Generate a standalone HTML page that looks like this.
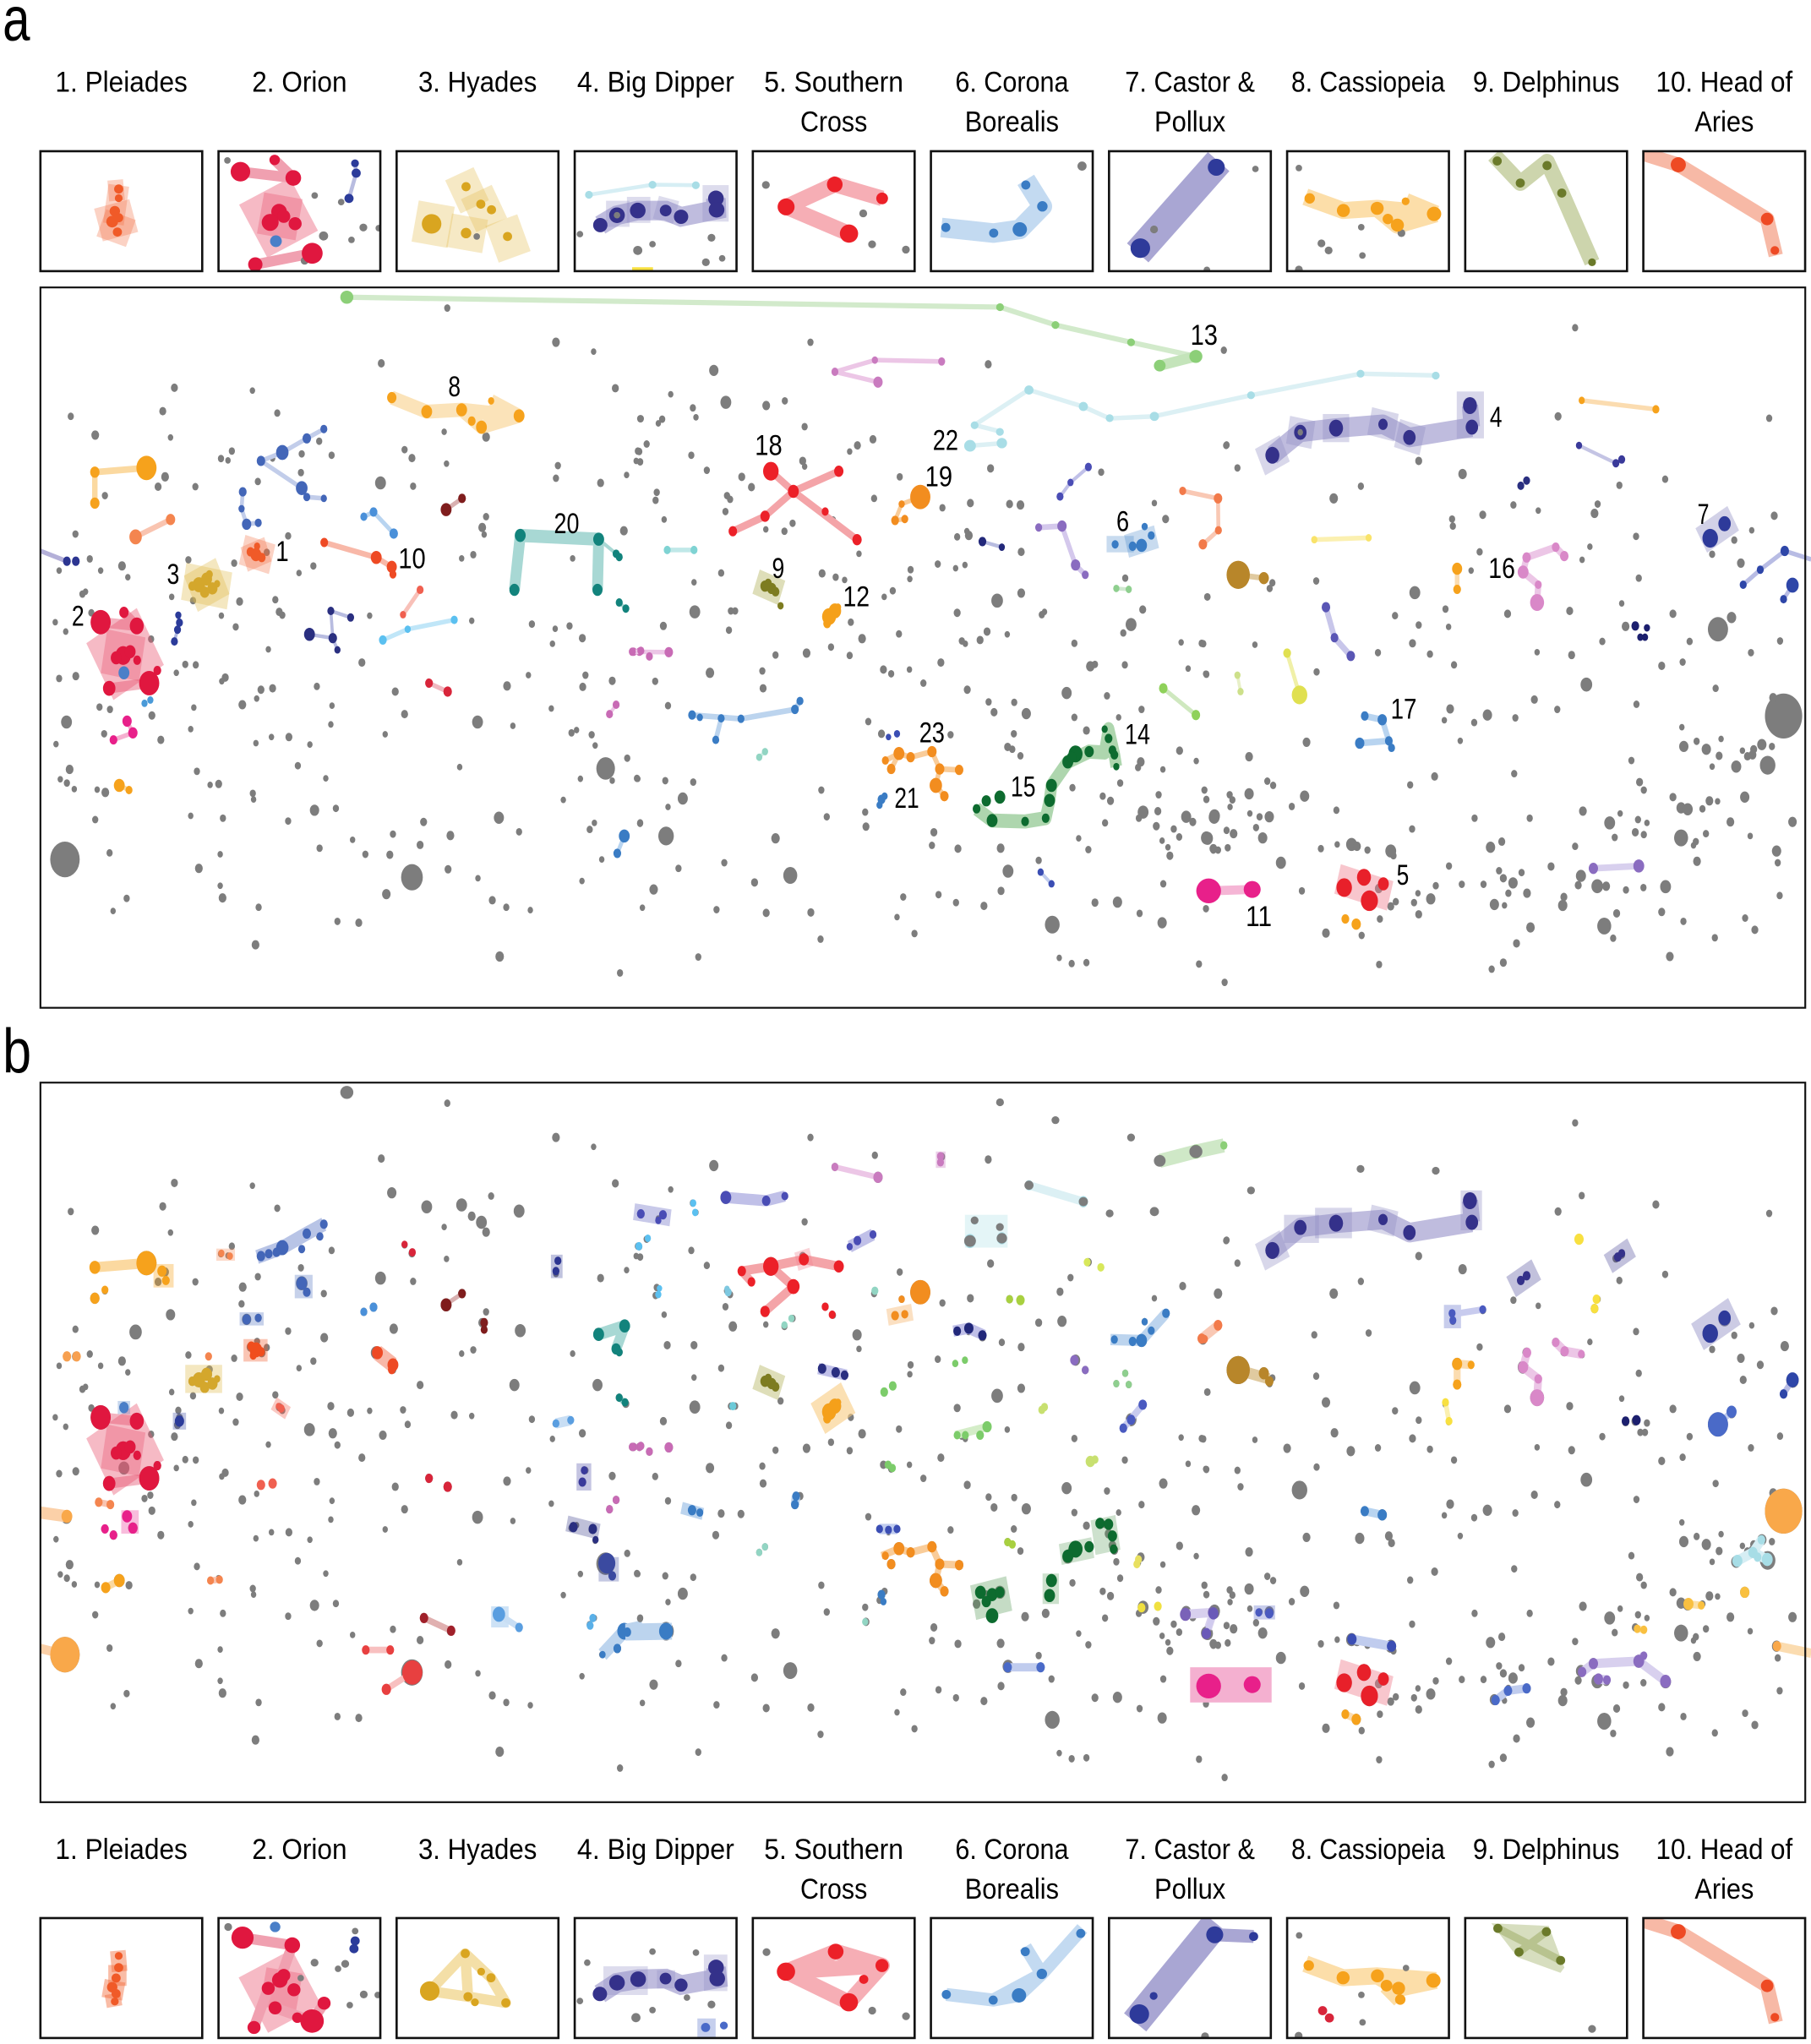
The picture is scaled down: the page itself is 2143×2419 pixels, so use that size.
<!DOCTYPE html>
<html><head><meta charset="utf-8"><style>html,body{margin:0;padding:0;background:#fff}svg{display:block}
.t{font-family:"Liberation Sans Narrow","Liberation Sans",Arial,sans-serif;font-size:22.5px;fill:#000}
.n{font-family:"Liberation Sans",Arial,sans-serif;font-size:22.5px;fill:#000}
</style></head><body>
<svg xmlns="http://www.w3.org/2000/svg" xmlns:xlink="http://www.w3.org/1999/xlink" width="2143" height="2419" viewBox="0 0 1389 1568" preserveAspectRatio="none">
<defs>
<filter id="gr" x="-10%" y="-10%" width="120%" height="120%" color-interpolation-filters="sRGB"><feFlood flood-color="#7d7d7d"/><feComposite in2="SourceAlpha" operator="in"/></filter>
</defs>
<rect width="1389" height="1568" fill="#fff"/>
<text x="2" y="31" style="font-family:'Liberation Sans',Arial,sans-serif;font-size:48px;fill:#000" textLength="21" lengthAdjust="spacingAndGlyphs">a</text>
<text x="2" y="823" style="font-family:'Liberation Sans',Arial,sans-serif;font-size:48px;fill:#000" textLength="22" lengthAdjust="spacingAndGlyphs">b</text>

<!-- TITLES -->
<g class="t" text-anchor="middle">
<text x="93.1" y="70.4" textLength="101.4" lengthAdjust="spacingAndGlyphs">1. Pleiades</text>
<text x="229.7" y="70.4" textLength="72.8" lengthAdjust="spacingAndGlyphs">2. Orion</text>
<text x="366.3" y="70.4" textLength="91" lengthAdjust="spacingAndGlyphs">3. Hyades</text>
<text x="502.9" y="70.4" textLength="120.5" lengthAdjust="spacingAndGlyphs">4. Big Dipper</text>
<text x="639.5" y="70.4" textLength="106.8" lengthAdjust="spacingAndGlyphs">5. Southern</text>
<text x="639.5" y="100.8" textLength="51.4" lengthAdjust="spacingAndGlyphs">Cross</text>
<text x="776.1" y="70.4" textLength="86.9" lengthAdjust="spacingAndGlyphs">6. Corona</text>
<text x="776.1" y="100.8" textLength="72.1" lengthAdjust="spacingAndGlyphs">Borealis</text>
<text x="912.7" y="70.4" textLength="99.6" lengthAdjust="spacingAndGlyphs">7. Castor &amp;</text>
<text x="912.7" y="100.8" textLength="54.6" lengthAdjust="spacingAndGlyphs">Pollux</text>
<text x="1049.3" y="70.4" textLength="117.8" lengthAdjust="spacingAndGlyphs">8. Cassiopeia</text>
<text x="1185.9" y="70.4" textLength="112.5" lengthAdjust="spacingAndGlyphs">9. Delphinus</text>
<text x="1322.5" y="70.4" textLength="104.8" lengthAdjust="spacingAndGlyphs">10. Head of</text>
<text x="1322.5" y="100.8" textLength="45.4" lengthAdjust="spacingAndGlyphs">Aries</text>

<text x="93.1" y="1426" textLength="101.4" lengthAdjust="spacingAndGlyphs">1. Pleiades</text>
<text x="229.7" y="1426" textLength="72.8" lengthAdjust="spacingAndGlyphs">2. Orion</text>
<text x="366.3" y="1426" textLength="91" lengthAdjust="spacingAndGlyphs">3. Hyades</text>
<text x="502.9" y="1426" textLength="120.5" lengthAdjust="spacingAndGlyphs">4. Big Dipper</text>
<text x="639.5" y="1426" textLength="106.8" lengthAdjust="spacingAndGlyphs">5. Southern</text>
<text x="639.5" y="1456.4" textLength="51.4" lengthAdjust="spacingAndGlyphs">Cross</text>
<text x="776.1" y="1426" textLength="86.9" lengthAdjust="spacingAndGlyphs">6. Corona</text>
<text x="776.1" y="1456.4" textLength="72.1" lengthAdjust="spacingAndGlyphs">Borealis</text>
<text x="912.7" y="1426" textLength="99.6" lengthAdjust="spacingAndGlyphs">7. Castor &amp;</text>
<text x="912.7" y="1456.4" textLength="54.6" lengthAdjust="spacingAndGlyphs">Pollux</text>
<text x="1049.3" y="1426" textLength="117.8" lengthAdjust="spacingAndGlyphs">8. Cassiopeia</text>
<text x="1185.9" y="1426" textLength="112.5" lengthAdjust="spacingAndGlyphs">9. Delphinus</text>
<text x="1322.5" y="1426" textLength="104.8" lengthAdjust="spacingAndGlyphs">10. Head of</text>
<text x="1322.5" y="1456.4" textLength="45.4" lengthAdjust="spacingAndGlyphs">Aries</text>
</g>

<!-- ===================== PANEL A ===================== -->
<!-- zone 1 -->
<g transform="translate(26,214) scale(0.2977,0.3597)">
<g id="s1" fill="#7d7d7d">
<circle cx="1065" cy="62" r="8"/><circle cx="1345" cy="135" r="10"/><circle cx="1442" cy="155" r="7"/><circle cx="895" cy="180" r="9"/><circle cx="1498" cy="233" r="9"/><circle cx="362" cy="232" r="9"/><circle cx="563" cy="238" r="7"/><circle cx="95" cy="293" r="8"/><circle cx="332" cy="282" r="9"/><circle cx="627" cy="286" r="8"/><circle cx="1562" cy="298" r="8"/><circle cx="158" cy="333" r="10"/><circle cx="352" cy="338" r="7"/><circle cx="1057" cy="326" r="7"/><circle cx="1165" cy="337" r="10"/><circle cx="510" cy="367" r="8"/><circle cx="482" cy="383" r="8"/><circle cx="500" cy="387" r="7"/><circle cx="735" cy="346" r="8"/><circle cx="690" cy="373" r="8"/><circle cx="767" cy="376" r="8"/><circle cx="955" cy="364" r="8"/><circle cx="974" cy="382" r="9"/><circle cx="1063" cy="394" r="7"/><circle cx="1350" cy="398" r="8"/><circle cx="1345" cy="425" r="8"/><circle cx="1556" cy="367" r="8"/><circle cx="1562" cy="390" r="8"/><circle cx="1527" cy="418" r="7"/><circle cx="1460" cy="435" r="9"/><circle cx="338" cy="422" r="10"/><circle cx="320" cy="443" r="9"/><circle cx="183" cy="462" r="8"/><circle cx="416" cy="443" r="8"/><circle cx="577" cy="432" r="8"/><circle cx="688" cy="413" r="8"/><circle cx="893" cy="435" r="14"/><circle cx="977" cy="442" r="8"/><circle cx="1165" cy="507" r="8"/><circle cx="1155" cy="530" r="10"/><circle cx="1160" cy="545" r="7"/><circle cx="1520" cy="537" r="10"/><circle cx="107" cy="544" r="8"/><circle cx="655" cy="548" r="8"/><circle cx="144" cy="597" r="8"/><circle cx="172" cy="622" r="7"/><circle cx="227" cy="612" r="10"/><circle cx="242" cy="636" r="7"/><circle cx="65" cy="622" r="7"/><circle cx="398" cy="599" r="8"/><circle cx="516" cy="606" r="8"/><circle cx="600" cy="583" r="8"/><circle cx="615" cy="383" r="7"/><circle cx="1132" cy="588" r="8"/><circle cx="1102" cy="596" r="7"/><circle cx="1388" cy="596" r="7"/><circle cx="683" cy="627" r="7"/><circle cx="720" cy="612" r="8"/><circle cx="355" cy="678" r="7"/><circle cx="410" cy="686" r="8"/><circle cx="530" cy="688" r="9"/><circle cx="622" cy="684" r="8"/><circle cx="632" cy="710" r="9"/><circle cx="640" cy="717" r="8"/><circle cx="483" cy="718" r="7"/><circle cx="520" cy="742" r="8"/><circle cx="865" cy="718" r="7"/><circle cx="1128" cy="729" r="7"/><circle cx="1283" cy="736" r="8"/><circle cx="1343" cy="746" r="7"/><circle cx="1380" cy="740" r="8"/><circle cx="1413" cy="766" r="9"/><circle cx="1336" cy="778" r="7"/><circle cx="55" cy="732" r="7"/><circle cx="82" cy="752" r="7"/><circle cx="125" cy="672" r="8"/><circle cx="133" cy="667" r="7"/><circle cx="604" cy="790" r="7"/><circle cx="845" cy="818" r="9"/><circle cx="65" cy="852" r="8"/><circle cx="108" cy="847" r="9"/><circle cx="390" cy="822" r="8"/><circle cx="417" cy="823" r="8"/><circle cx="367" cy="840" r="7"/><circle cx="493" cy="850" r="9"/><circle cx="484" cy="858" r="7"/><circle cx="585" cy="876" r="9"/><circle cx="615" cy="873" r="9"/><circle cx="574" cy="895" r="7"/><circle cx="537" cy="908" r="10"/><circle cx="729" cy="869" r="8"/><circle cx="768" cy="910" r="7"/><circle cx="931" cy="880" r="9"/><circle cx="1219" cy="868" r="10"/><circle cx="1274" cy="845" r="7"/><circle cx="1421" cy="845" r="8"/><circle cx="1414" cy="870" r="9"/><circle cx="1490" cy="857" r="9"/><circle cx="169" cy="913" r="8"/><circle cx="196" cy="918" r="8"/><circle cx="304" cy="931" r="9"/><circle cx="412" cy="914" r="7"/><circle cx="84" cy="945" r="14"/><circle cx="181" cy="970" r="8"/><circle cx="327" cy="983" r="9"/><circle cx="404" cy="960" r="7"/><circle cx="57" cy="992" r="7"/><circle cx="572" cy="990" r="7"/><circle cx="612" cy="977" r="7"/><circle cx="657" cy="977" r="9"/><circle cx="711" cy="993" r="7"/><circle cx="955" cy="928" r="9"/><circle cx="765" cy="950" r="7"/><circle cx="905" cy="971" r="7"/><circle cx="1143" cy="945" r="14"/><circle cx="1234" cy="953" r="7"/><circle cx="1333" cy="916" r="7"/><circle cx="1385" cy="968" r="8"/><circle cx="1398" cy="962" r="7"/><circle cx="1437" cy="972" r="8"/><circle cx="1446" cy="995" r="7"/><circle cx="1473" cy="1044" r="24"/><circle cx="1528" cy="1022" r="7"/><circle cx="1556" cy="1066" r="7"/><circle cx="1408" cy="1066" r="7"/><circle cx="1490" cy="1070" r="7"/><circle cx="92" cy="1046" r="10"/><circle cx="68" cy="1067" r="7"/><circle cx="85" cy="1075" r="8"/><circle cx="104" cy="1088" r="7"/><circle cx="163" cy="1089" r="7"/><circle cx="184" cy="1095" r="10"/><circle cx="420" cy="1050" r="8"/><circle cx="454" cy="1079" r="7"/><circle cx="476" cy="1077" r="9"/><circle cx="564" cy="1097" r="8"/><circle cx="566" cy="1110" r="7"/><circle cx="680" cy="1038" r="8"/><circle cx="752" cy="1065" r="7"/><circle cx="1097" cy="1041" r="7"/><circle cx="1364" cy="1111" r="7"/><circle cx="1444" cy="1160" r="7"/><circle cx="1432" cy="1174" r="8"/><circle cx="1562" cy="1160" r="8"/><circle cx="158" cy="1153" r="8"/><circle cx="404" cy="1145" r="7"/><circle cx="487" cy="1150" r="8"/><circle cx="655" cy="1156" r="8"/><circle cx="723" cy="1133" r="12"/><circle cx="778" cy="1129" r="8"/><circle cx="1004" cy="1158" r="9"/><circle cx="1073" cy="1187" r="10"/><circle cx="1198" cy="1149" r="13"/><circle cx="1250" cy="1179" r="8"/><circle cx="80" cy="1238" r="38"/><circle cx="195" cy="1224" r="8"/><circle cx="480" cy="1227" r="7"/><circle cx="425" cy="1257" r="10"/><circle cx="736" cy="1214" r="8"/><circle cx="821" cy="1196" r="7"/><circle cx="854" cy="1227" r="8"/><circle cx="917" cy="1228" r="9"/><circle cx="925" cy="1184" r="8"/><circle cx="995" cy="1207" r="9"/><circle cx="974" cy="1276" r="28"/><circle cx="1067" cy="1259" r="9"/><circle cx="1144" cy="1278" r="7"/><circle cx="1463" cy="1238" r="7"/><circle cx="239" cy="1321" r="8"/><circle cx="204" cy="1348" r="7"/><circle cx="480" cy="1294" r="7"/><circle cx="486" cy="1320" r="10"/><circle cx="579" cy="1340" r="8"/><circle cx="908" cy="1312" r="11"/><circle cx="1181" cy="1325" r="9"/><circle cx="1217" cy="1340" r="8"/><circle cx="1279" cy="1346" r="7"/><circle cx="1412" cy="1284" r="7"/><circle cx="782" cy="1370" r="8"/><circle cx="837" cy="1373" r="9"/><circle cx="571" cy="1420" r="10"/><circle cx="1200" cy="1445" r="11"/><circle cx="1510" cy="1480" r="8"/><circle cx="148" cy="712" r="8"/><circle cx="302" cy="768" r="8"/>
</g>
<g id="l1a" fill="none" stroke-linejoin="round">
<path d="M157,412 L290,403 M157,412 L157,478" stroke="#fbd9a0" stroke-width="14"/>
<path d="M262,550 L352,513" stroke="#f9c4b0" stroke-width="12"/>
<path d="M17,580 L85,602" stroke="#b4b0d8" stroke-width="10"/>
<path d="M747,320 L703,340 L640,370 L585,388 L690,446 L703,465 L747,468 M538,454 L535,490 L548,523 L578,520" stroke="#c2cdea" stroke-width="10"/>
<g fill="#f26a3a" fill-opacity=".3" stroke="none"><rect x="535" y="555" width="80" height="65" transform="rotate(15 575 588)"/><rect x="540" y="560" width="65" height="55" transform="rotate(-20 572 588)"/></g>
<g fill="#e0b94a" fill-opacity=".35" stroke="none"><rect x="385" y="615" width="120" height="80" transform="rotate(10 445 655)"/><rect x="400" y="610" width="90" height="85" transform="rotate(-25 445 652)"/></g>
<path d="M172,732 L265,740 M194,873 L297,862 M232,711 L265,740" stroke="#f0a0b0" stroke-width="22" stroke-opacity=".8"/>
<rect x="160" y="730" width="150" height="140" transform="rotate(-30 235 800)" fill="#e8536f" fill-opacity=".4" stroke="none"/>
<rect x="180" y="755" width="100" height="95" transform="rotate(10 230 802)" fill="#e8536f" fill-opacity=".35" stroke="none"/>
<path d="M240,943 L255,968 L205,983" stroke="#f5b0d0" stroke-width="10"/>
<path d="M220,1080 L245,1090" stroke="#fbd9a0" stroke-width="10"/>
<path d="M372,717 L375,733 L370,748 L362,773" stroke="#b0b8e0" stroke-width="8"/>
<path d="M710,758 L770,766 L765,708 L816,722 M770,766 L782,791" stroke="#b8bce0" stroke-width="8"/>
<path d="M850,507 L875,497 L927,543" stroke="#b8d4f0" stroke-width="10"/>
<path d="M748,562 L882,594 L922,614 L925,630" stroke="#f8b8a8" stroke-width="12"/>
<path d="M995,663 L951,716" stroke="#f8c0b8" stroke-width="10"/>
<path d="M899,770 L963,747 L1083,727" stroke="#c0e6f8" stroke-width="10"/>
<path d="M1062,492 L1103,468" stroke="#d8b0b0" stroke-width="10"/>
<path d="M1018,862 L1066,880" stroke="#f0b8c0" stroke-width="10"/>
<path d="M1238,663 L1253,547 L1455,555 L1452,663" stroke="#a8d8d4" stroke-width="28"/>
<path d="M1455,555 L1500,586 L1508,593 M1508,690 L1525,703" stroke="#a8d8d4" stroke-width="8"/>
<path d="M922,253 L1012,283 L1102,279 L1153,316 L1250,292 M1102,279 L1250,292 M1178,260 L1250,292" stroke="#f9d08a" stroke-opacity=".6" stroke-width="30"/>
<path d="M1545,795 L1568,795 M1483,928 L1500,908" stroke="#ecc6e6" stroke-width="8"/>
<path d="M1521,1188 L1503,1225" stroke="#b8d4f0" stroke-width="10"/>
</g>
<g id="c1a">
<g fill="#f6a21c"><circle cx="157" cy="412" r="12"/><circle cx="290" cy="403" r="26"/><circle cx="157" cy="478" r="12"/><circle cx="220" cy="1080" r="14"/><circle cx="245" cy="1090" r="9"/><circle cx="922" cy="253" r="12"/><circle cx="1012" cy="283" r="14"/><circle cx="1102" cy="279" r="14"/><circle cx="1128" cy="303" r="10"/><circle cx="1153" cy="316" r="14"/><circle cx="1178" cy="260" r="8"/><circle cx="1250" cy="292" r="14"/></g>
<g fill="#f4854f"><circle cx="262" cy="550" r="16"/><circle cx="352" cy="513" r="12"/></g>
<g fill="#2c3591"><circle cx="85" cy="602" r="10"/><circle cx="108" cy="602" r="10"/></g>
<g fill="#4366b8"><circle cx="585" cy="388" r="11"/><circle cx="640" cy="370" r="16"/><circle cx="703" cy="340" r="11"/><circle cx="747" cy="320" r="9"/><circle cx="690" cy="446" r="15"/><circle cx="703" cy="465" r="9"/><circle cx="747" cy="468" r="8"/><circle cx="538" cy="454" r="10"/><circle cx="535" cy="490" r="8"/><circle cx="548" cy="523" r="12"/><circle cx="578" cy="520" r="9"/></g>
<g fill="#f05a28"><circle cx="572" cy="588" r="14"/><circle cx="558" cy="582" r="10"/><circle cx="587" cy="594" r="10"/><circle cx="575" cy="570" r="8"/></g>
<g fill="#d4a72c"><circle cx="425" cy="652" r="16"/><circle cx="445" cy="640" r="14"/><circle cx="460" cy="660" r="13"/><circle cx="440" cy="668" r="12"/><circle cx="408" cy="655" r="10"/><circle cx="472" cy="650" r="8"/><circle cx="452" cy="630" r="9"/></g>
<g fill="#e0173f"><circle cx="172" cy="732" r="26"/><circle cx="232" cy="711" r="12"/><circle cx="265" cy="740" r="18"/><circle cx="230" cy="803" r="20"/><circle cx="212" cy="808" r="14"/><circle cx="248" cy="795" r="14"/><circle cx="266" cy="813" r="10"/><circle cx="194" cy="873" r="16"/><circle cx="297" cy="862" r="26"/><circle cx="318" cy="835" r="10"/></g>
<circle cx="232" cy="840" r="14" fill="#4a7fc8"/>
<g fill="#4a9ad8"><circle cx="285" cy="905" r="8"/><circle cx="300" cy="898" r="8"/></g>
<g fill="#e8208a"><circle cx="240" cy="943" r="12"/><circle cx="255" cy="968" r="12"/><circle cx="205" cy="983" r="10"/></g>
<g fill="#2b3b9a"><circle cx="372" cy="717" r="8"/><circle cx="375" cy="733" r="9"/><circle cx="370" cy="748" r="9"/><circle cx="362" cy="773" r="9"/></g>
<g fill="#2a2f80"><circle cx="710" cy="758" r="14"/><circle cx="770" cy="766" r="11"/><circle cx="765" cy="708" r="9"/><circle cx="816" cy="722" r="9"/><circle cx="782" cy="791" r="8"/></g>
<g fill="#4a90d9"><circle cx="850" cy="507" r="9"/><circle cx="875" cy="497" r="10"/><circle cx="927" cy="543" r="11"/></g>
<g fill="#ee4a24"><circle cx="748" cy="562" r="10"/><circle cx="882" cy="594" r="14"/><circle cx="922" cy="614" r="13"/><circle cx="925" cy="630" r="9"/></g>
<g fill="#f06050"><circle cx="995" cy="663" r="9"/><circle cx="951" cy="716" r="8"/></g>
<g fill="#5bc0f0"><circle cx="899" cy="770" r="10"/><circle cx="963" cy="747" r="8"/><circle cx="1083" cy="727" r="9"/></g>
<g fill="#7f1d1d"><circle cx="1062" cy="492" r="14"/><circle cx="1103" cy="468" r="10"/></g>
<g fill="#d8253a"><circle cx="1018" cy="862" r="10"/><circle cx="1066" cy="880" r="11"/></g>
<g fill="#12837c"><circle cx="1253" cy="547" r="14"/><circle cx="1455" cy="555" r="14"/><circle cx="1238" cy="663" r="13"/><circle cx="1452" cy="663" r="13"/><circle cx="1500" cy="586" r="9"/><circle cx="1508" cy="593" r="9"/><circle cx="1508" cy="690" r="9"/><circle cx="1525" cy="703" r="9"/></g>
<g fill="#c86bb5"><circle cx="1545" cy="795" r="9"/><circle cx="1560" cy="795" r="9"/><circle cx="1483" cy="928" r="9"/><circle cx="1500" cy="908" r="9"/></g>
<g fill="#3a7cc4"><circle cx="1521" cy="1188" r="14"/><circle cx="1503" cy="1225" r="10"/></g>
</g>
</g>

<!-- zone 2 -->
<g transform="translate(479.6,214) scale(0.2977,0.3597)">
<g id="s2" fill="#7d7d7d">
<circle cx="477" cy="135" r="8"/><circle cx="228" cy="195" r="12"/><circle cx="935" cy="182" r="9"/><circle cx="117" cy="246" r="7"/><circle cx="259" cy="263" r="14"/><circle cx="174" cy="275" r="8"/><circle cx="182" cy="295" r="7"/><circle cx="363" cy="270" r="10"/><circle cx="411" cy="260" r="8"/><circle cx="40" cy="298" r="8"/><circle cx="95" cy="299" r="8"/><circle cx="85" cy="308" r="7"/><circle cx="462" cy="315" r="8"/><circle cx="638" cy="342" r="9"/><circle cx="598" cy="355" r="9"/><circle cx="578" cy="368" r="7"/><circle cx="55" cy="352" r="8"/><circle cx="36" cy="368" r="8"/><circle cx="28" cy="388" r="7"/><circle cx="170" cy="376" r="8"/><circle cx="210" cy="408" r="8"/><circle cx="300" cy="422" r="9"/><circle cx="325" cy="444" r="9"/><circle cx="457" cy="388" r="9"/><circle cx="462" cy="400" r="7"/><circle cx="81" cy="455" r="8"/><circle cx="78" cy="472" r="8"/><circle cx="262" cy="462" r="8"/><circle cx="270" cy="470" r="8"/><circle cx="258" cy="496" r="8"/><circle cx="100" cy="513" r="7"/><circle cx="431" cy="521" r="8"/><circle cx="410" cy="538" r="8"/><circle cx="362" cy="534" r="7"/><circle cx="535" cy="514" r="8"/><circle cx="707" cy="422" r="8"/><circle cx="641" cy="468" r="8"/><circle cx="817" cy="488" r="8"/><circle cx="941" cy="404" r="9"/><circle cx="889" cy="478" r="9"/><circle cx="990" cy="480" r="9"/><circle cx="1018" cy="482" r="10"/><circle cx="855" cy="550" r="8"/><circle cx="885" cy="547" r="10"/><circle cx="880" cy="538" r="7"/><circle cx="1020" cy="582" r="9"/><circle cx="1226" cy="412" r="8"/><circle cx="1392" cy="512" r="9"/><circle cx="1363" cy="478" r="7"/><circle cx="1288" cy="638" r="8"/><circle cx="1548" cy="355" r="8"/><circle cx="735" cy="620" r="8"/><circle cx="733" cy="640" r="7"/><circle cx="805" cy="608" r="8"/><circle cx="851" cy="617" r="7"/><circle cx="875" cy="610" r="7"/><circle cx="1020" cy="670" r="10"/><circle cx="958" cy="686" r="15"/><circle cx="177" cy="647" r="7"/><circle cx="247" cy="627" r="8"/><circle cx="507" cy="628" r="9"/><circle cx="542" cy="636" r="8"/><circle cx="565" cy="642" r="7"/><circle cx="602" cy="586" r="7"/><circle cx="667" cy="678" r="7"/><circle cx="689" cy="665" r="8"/><circle cx="179" cy="710" r="14"/><circle cx="98" cy="740" r="9"/><circle cx="267" cy="749" r="8"/><circle cx="272" cy="708" r="8"/><circle cx="283" cy="708" r="8"/><circle cx="581" cy="732" r="8"/><circle cx="610" cy="767" r="10"/><circle cx="467" cy="798" r="10"/><circle cx="387" cy="802" r="8"/><circle cx="530" cy="785" r="8"/><circle cx="578" cy="803" r="8"/><circle cx="705" cy="757" r="8"/><circle cx="855" cy="712" r="9"/><circle cx="867" cy="772" r="8"/><circle cx="876" cy="778" r="7"/><circle cx="914" cy="770" r="9"/><circle cx="932" cy="752" r="9"/><circle cx="984" cy="758" r="7"/><circle cx="1073" cy="716" r="8"/><circle cx="1080" cy="710" r="7"/><circle cx="1303" cy="737" r="14"/><circle cx="1283" cy="755" r="8"/><circle cx="1157" cy="777" r="8"/><circle cx="1333" cy="705" r="9"/><circle cx="1432" cy="775" r="7"/><circle cx="1485" cy="777" r="8"/><circle cx="1500" cy="678" r="8"/><circle cx="218" cy="840" r="11"/><circle cx="353" cy="836" r="8"/><circle cx="355" cy="873" r="9"/><circle cx="77" cy="858" r="8"/><circle cx="665" cy="833" r="9"/><circle cx="685" cy="842" r="8"/><circle cx="732" cy="833" r="7"/><circle cx="768" cy="862" r="8"/><circle cx="813" cy="818" r="9"/><circle cx="881" cy="876" r="9"/><circle cx="1137" cy="883" r="13"/><circle cx="1198" cy="826" r="11"/><circle cx="1210" cy="822" r="8"/><circle cx="1287" cy="823" r="8"/><circle cx="1241" cy="889" r="8"/><circle cx="1450" cy="831" r="7"/><circle cx="1497" cy="843" r="8"/><circle cx="110" cy="910" r="8"/><circle cx="626" cy="944" r="8"/><circle cx="660" cy="970" r="9"/><circle cx="838" cy="972" r="8"/><circle cx="936" cy="902" r="8"/><circle cx="950" cy="924" r="9"/><circle cx="1002" cy="903" r="8"/><circle cx="1033" cy="927" r="12"/><circle cx="1001" cy="970" r="8"/><circle cx="985" cy="998" r="9"/><circle cx="997" cy="1003" r="8"/><circle cx="1018" cy="1017" r="8"/><circle cx="1157" cy="935" r="8"/><circle cx="1188" cy="963" r="9"/><circle cx="1271" cy="935" r="7"/><circle cx="1330" cy="918" r="8"/><circle cx="1328" cy="1030" r="10"/><circle cx="1321" cy="1042" r="8"/><circle cx="1428" cy="1006" r="9"/><circle cx="1385" cy="1046" r="7"/><circle cx="1471" cy="1028" r="7"/><circle cx="1275" cy="1075" r="8"/><circle cx="1152" cy="1085" r="8"/><circle cx="1230" cy="1103" r="8"/><circle cx="1250" cy="1113" r="9"/><circle cx="1334" cy="1137" r="14"/><circle cx="1323" cy="1150" r="8"/><circle cx="1374" cy="1100" r="8"/><circle cx="1372" cy="1135" r="9"/><circle cx="1445" cy="1147" r="13"/><circle cx="1462" cy="1158" r="9"/><circle cx="1492" cy="1090" r="8"/><circle cx="1498" cy="1110" r="7"/><circle cx="1518" cy="1145" r="14"/><circle cx="1500" cy="1193" r="14"/><circle cx="1368" cy="1167" r="9"/><circle cx="1413" cy="1173" r="8"/><circle cx="1427" cy="1190" r="8"/><circle cx="1383" cy="1198" r="7"/><circle cx="1515" cy="1218" r="8"/><circle cx="1552" cy="1213" r="8"/><circle cx="1403" cy="1230" r="9"/><circle cx="1398" cy="1212" r="7"/><circle cx="1557" cy="1100" r="8"/><circle cx="1168" cy="1193" r="7"/><circle cx="1193" cy="1217" r="8"/><circle cx="1236" cy="1160" r="8"/><circle cx="5" cy="1022" r="8"/><circle cx="103" cy="1070" r="8"/><circle cx="175" cy="1073" r="8"/><circle cx="30" cy="1065" r="8"/><circle cx="148" cy="1108" r="13"/><circle cx="110" cy="1126" r="7"/><circle cx="38" cy="1161" r="8"/><circle cx="105" cy="1188" r="20"/><circle cx="387" cy="1193" r="11"/><circle cx="505" cy="1090" r="8"/><circle cx="519" cy="1147" r="8"/><circle cx="618" cy="1137" r="8"/><circle cx="620" cy="1168" r="9"/><circle cx="795" cy="1180" r="9"/><circle cx="790" cy="1208" r="8"/><circle cx="857" cy="1215" r="9"/><circle cx="967" cy="1214" r="10"/><circle cx="1065" cy="1240" r="8"/><circle cx="986" cy="1263" r="14"/><circle cx="968" cy="1305" r="9"/><circle cx="1210" cy="1330" r="9"/><circle cx="1268" cy="1329" r="12"/><circle cx="1325" cy="1353" r="8"/><circle cx="1383" cy="1373" r="12"/><circle cx="1386" cy="1290" r="8"/><circle cx="1100" cy="1377" r="19"/><circle cx="137" cy="1257" r="8"/><circle cx="255" cy="1245" r="8"/><circle cx="73" cy="1302" r="11"/><circle cx="333" cy="1287" r="9"/><circle cx="425" cy="1272" r="18"/><circle cx="44" cy="1341" r="7"/><circle cx="235" cy="1345" r="8"/><circle cx="363" cy="1352" r="9"/><circle cx="478" cy="1351" r="9"/><circle cx="503" cy="1408" r="8"/><circle cx="716" cy="1318" r="8"/><circle cx="807" cy="1313" r="8"/><circle cx="852" cy="1330" r="8"/><circle cx="924" cy="1337" r="9"/><circle cx="700" cy="1361" r="7"/><circle cx="745" cy="1396" r="8"/><circle cx="188" cy="1446" r="8"/><circle cx="1118" cy="1448" r="7"/><circle cx="1150" cy="1460" r="8"/><circle cx="1188" cy="1458" r="8"/><circle cx="1478" cy="1461" r="8"/><circle cx="1544" cy="1501" r="7"/><circle cx="1496" cy="1343" r="8"/>
</g>
<g id="l2a" fill="none" stroke-linejoin="round">
<path d="M540,198 L643,173 L815,176 M540,198 L651,220" stroke="#ecc6e6" stroke-width="10"/>
<path d="M375,410 L433,453 L597,556 M550,410 L433,453 L360,506 L277,538" stroke="#f4a4a8" stroke-width="16"/>
<path d="M760,465 L712,480 L695,515 L720,512" stroke="#f9cc99" stroke-width="10"/>
<path d="M108,578 L177,578" stroke="#c0e8e8" stroke-width="10"/>
<path d="M18,795 L112,796" stroke="#ecc6e6" stroke-width="10"/>
<path d="M172,930 L298,938 L437,918 L450,900 M247,937 L233,983" stroke="#bcd4ee" stroke-width="12"/>
<path d="M345,1020 L360,1008" stroke="#cdeee4" stroke-width="8"/>
<rect x="335" y="630" width="70" height="55" transform="rotate(20 370 657)" fill="#c8c88a" fill-opacity=".6" stroke="none"/>
<path d="M670,1027 L705,1012 L735,1020 L790,1008 L810,1045 L860,1047 M810,1045 L800,1080 L822,1103 M685,1045 L705,1012" stroke="#f9cc99" stroke-width="12"/>
<path d="M905,1130 L945,1155 L1030,1157 L1083,1150 L1093,1112 L1098,1080 L1140,1030 L1195,1008 L1235,1010 L1245,960 L1260,1015 L1265,1040" stroke="#8cc48c" stroke-opacity=".7" stroke-width="30"/>
<path d="M920,560 L970,572" stroke="#b8bce0" stroke-width="8"/>
<path d="M1065,530 L1125,527 L1160,610 L1185,631" stroke="#d4c8ec" stroke-width="12"/>
<path d="M1120,464 L1147,434 L1193,401" stroke="#c0c0e8" stroke-width="8"/>
<g fill="#3a7cc4" fill-opacity=".28" stroke="none"><rect x="1240" y="548" width="70" height="35"/><rect x="1290" y="535" width="80" height="50" transform="rotate(-15 1330 560)"/></g>
<path d="M1436,452 L1527,468 L1528,536 L1488,566" stroke="#f9c8b4" stroke-width="10"/>
<path d="M1265,660 L1297,662" stroke="#cfe8cf" stroke-width="8"/>
<path d="M1386,873 L1470,930" stroke="#cfe8bf" stroke-width="10"/>
<path d="M1070,1265 L1098,1290" stroke="#c0ccee" stroke-width="8"/>
</g>
<g id="c2a">
<g fill="#c97bbf"><circle cx="540" cy="198" r="9"/><circle cx="643" cy="173" r="8"/><circle cx="815" cy="176" r="9"/><circle cx="651" cy="220" r="12"/></g>
<g fill="#ec2028"><circle cx="375" cy="410" r="20"/><circle cx="433" cy="453" r="14"/><circle cx="550" cy="410" r="12"/><circle cx="360" cy="506" r="12"/><circle cx="277" cy="538" r="11"/><circle cx="515" cy="496" r="9"/><circle cx="597" cy="556" r="12"/></g>
<g fill="#f28d1f"><circle cx="760" cy="465" r="26"/><circle cx="712" cy="480" r="8"/><circle cx="695" cy="515" r="10"/><circle cx="720" cy="512" r="9"/><circle cx="705" cy="1012" r="14"/><circle cx="735" cy="1020" r="11"/><circle cx="790" cy="1008" r="12"/><circle cx="670" cy="1027" r="9"/><circle cx="685" cy="1045" r="11"/><circle cx="810" cy="1045" r="12"/><circle cx="860" cy="1047" r="11"/><circle cx="800" cy="1080" r="16"/><circle cx="822" cy="1103" r="11"/></g>
<g fill="#7fd3d3"><circle cx="108" cy="578" r="9"/><circle cx="177" cy="578" r="9"/></g>
<g fill="#7d7c20"><circle cx="360" cy="655" r="12"/><circle cx="377" cy="660" r="12"/><circle cx="387" cy="667" r="10"/><circle cx="368" cy="648" r="9"/><circle cx="400" cy="697" r="8"/></g>
<g fill="#f5a01a"><circle cx="525" cy="720" r="18"/><circle cx="540" cy="708" r="16"/><circle cx="520" cy="735" r="10"/><circle cx="548" cy="700" r="8"/></g>
<g fill="#c86bb5"><circle cx="18" cy="795" r="9"/><circle cx="40" cy="793" r="9"/><circle cx="62" cy="805" r="9"/><circle cx="112" cy="796" r="11"/></g>
<g fill="#3a7cc4"><circle cx="172" cy="930" r="10"/><circle cx="192" cy="935" r="8"/><circle cx="247" cy="937" r="9"/><circle cx="298" cy="938" r="9"/><circle cx="437" cy="918" r="10"/><circle cx="450" cy="900" r="9"/><circle cx="233" cy="983" r="9"/><circle cx="660" cy="1110" r="10"/><circle cx="668" cy="1103" r="8"/><circle cx="655" cy="1122" r="8"/><circle cx="1262" cy="566" r="9"/><circle cx="1307" cy="570" r="10"/><circle cx="1330" cy="568" r="14"/><circle cx="1355" cy="547" r="9"/><circle cx="1338" cy="528" r="8"/></g>
<g fill="#92d5c3"><circle cx="345" cy="1020" r="8"/><circle cx="360" cy="1008" r="8"/></g>
<g fill="#3b4eb4"><circle cx="678" cy="977" r="7"/><circle cx="700" cy="970" r="8"/><circle cx="1070" cy="1265" r="8"/><circle cx="1098" cy="1290" r="8"/></g>
<g fill="#0d6b2f"><circle cx="905" cy="1130" r="10"/><circle cx="930" cy="1113" r="12"/><circle cx="965" cy="1105" r="14"/><circle cx="945" cy="1155" r="14"/><circle cx="1030" cy="1157" r="10"/><circle cx="1083" cy="1150" r="10"/><circle cx="1093" cy="1112" r="14"/><circle cx="1098" cy="1080" r="14"/><circle cx="1140" cy="1030" r="14"/><circle cx="1160" cy="1013" r="18"/><circle cx="1195" cy="1008" r="12"/><circle cx="1235" cy="960" r="8"/><circle cx="1245" cy="980" r="10"/><circle cx="1255" cy="1005" r="10"/><circle cx="1260" cy="1015" r="10"/><circle cx="1265" cy="1040" r="8"/><circle cx="1150" cy="1020" r="12"/></g>
<g fill="#22287a"><circle cx="920" cy="560" r="10"/><circle cx="970" cy="572" r="8"/></g>
<g fill="#8a6cc0"><circle cx="1065" cy="530" r="9"/><circle cx="1125" cy="527" r="12"/><circle cx="1160" cy="610" r="12"/><circle cx="1185" cy="631" r="9"/></g>
<g fill="#4a4db5"><circle cx="1120" cy="464" r="9"/><circle cx="1147" cy="434" r="8"/><circle cx="1193" cy="401" r="9"/></g>
<g fill="#f27a4a"><circle cx="1436" cy="452" r="9"/><circle cx="1527" cy="468" r="11"/><circle cx="1528" cy="536" r="9"/><circle cx="1488" cy="566" r="11"/></g>
<g fill="#8fcf8f"><circle cx="1265" cy="660" r="8"/><circle cx="1297" cy="662" r="8"/></g>
<g fill="#8fd15a"><circle cx="1386" cy="873" r="11"/><circle cx="1470" cy="930" r="11"/></g>
</g>
</g>

<!-- zone 3 -->
<g transform="translate(922.3,214) scale(0.2977,0.3597)">
<g id="s3" fill="#7d7d7d">
<circle cx="960" cy="104" r="8"/><circle cx="55" cy="152" r="8"/><circle cx="916" cy="293" r="9"/><circle cx="1460" cy="297" r="8"/><circle cx="62" cy="354" r="8"/><circle cx="90" cy="403" r="8"/><circle cx="557" cy="388" r="9"/><circle cx="670" cy="416" r="11"/><circle cx="408" cy="442" r="8"/><circle cx="1074" cy="440" r="8"/><circle cx="1192" cy="427" r="8"/><circle cx="338" cy="468" r="11"/><circle cx="801" cy="482" r="8"/><circle cx="865" cy="494" r="7"/><circle cx="1018" cy="480" r="8"/><circle cx="1010" cy="500" r="10"/><circle cx="643" cy="512" r="8"/><circle cx="645" cy="527" r="8"/><circle cx="722" cy="503" r="9"/><circle cx="1473" cy="505" r="9"/><circle cx="1117" cy="549" r="8"/><circle cx="1415" cy="536" r="7"/><circle cx="1370" cy="557" r="8"/><circle cx="1313" cy="587" r="8"/><circle cx="998" cy="571" r="7"/><circle cx="978" cy="599" r="7"/><circle cx="1387" cy="606" r="10"/><circle cx="714" cy="582" r="8"/><circle cx="692" cy="622" r="7"/><circle cx="1124" cy="638" r="8"/><circle cx="12" cy="678" r="8"/><circle cx="173" cy="660" r="8"/><circle cx="180" cy="648" r="8"/><circle cx="293" cy="644" r="8"/><circle cx="547" cy="669" r="14"/><circle cx="626" cy="704" r="8"/><circle cx="496" cy="718" r="8"/><circle cx="786" cy="714" r="9"/><circle cx="946" cy="708" r="9"/><circle cx="1080" cy="692" r="7"/><circle cx="1212" cy="714" r="9"/><circle cx="557" cy="738" r="8"/><circle cx="634" cy="742" r="7"/><circle cx="1328" cy="747" r="26"/><circle cx="1363" cy="722" r="12"/><circle cx="1090" cy="741" r="10"/><circle cx="1030" cy="773" r="8"/><circle cx="1255" cy="773" r="8"/><circle cx="1488" cy="772" r="8"/><circle cx="2" cy="778" r="8"/><circle cx="135" cy="780" r="7"/><circle cx="452" cy="797" r="8"/><circle cx="541" cy="777" r="9"/><circle cx="586" cy="800" r="8"/><circle cx="648" cy="823" r="8"/><circle cx="862" cy="796" r="7"/><circle cx="951" cy="802" r="9"/><circle cx="1183" cy="825" r="9"/><circle cx="1237" cy="817" r="8"/><circle cx="1413" cy="797" r="8"/><circle cx="1322" cy="873" r="8"/><circle cx="8" cy="842" r="7"/><circle cx="294" cy="838" r="8"/><circle cx="989" cy="865" r="15"/><circle cx="1497" cy="932" r="48"/><circle cx="1470" cy="893" r="10"/><circle cx="855" cy="897" r="9"/><circle cx="914" cy="918" r="8"/><circle cx="1118" cy="907" r="8"/><circle cx="638" cy="917" r="10"/><circle cx="623" cy="941" r="7"/><circle cx="734" cy="930" r="12"/><circle cx="700" cy="946" r="8"/><circle cx="806" cy="936" r="8"/><circle cx="1235" cy="956" r="7"/><circle cx="1240" cy="997" r="12"/><circle cx="1273" cy="986" r="8"/><circle cx="1298" cy="1003" r="12"/><circle cx="1336" cy="981" r="7"/><circle cx="1420" cy="1003" r="9"/><circle cx="1441" cy="993" r="12"/><circle cx="1467" cy="997" r="8"/><circle cx="1391" cy="1006" r="7"/><circle cx="1404" cy="1018" r="9"/><circle cx="1417" cy="1015" r="10"/><circle cx="1456" cy="1037" r="20"/><circle cx="1331" cy="1017" r="9"/><circle cx="1375" cy="1040" r="13"/><circle cx="1313" cy="1040" r="7"/><circle cx="268" cy="988" r="10"/><circle cx="120" cy="1019" r="10"/><circle cx="664" cy="985" r="7"/><circle cx="1105" cy="1027" r="8"/><circle cx="803" cy="1055" r="8"/><circle cx="598" cy="1061" r="9"/><circle cx="535" cy="1079" r="8"/><circle cx="1126" cy="1073" r="9"/><circle cx="1137" cy="1090" r="8"/><circle cx="1212" cy="1105" r="9"/><circle cx="1233" cy="1128" r="12"/><circle cx="1250" cy="1131" r="13"/><circle cx="1288" cy="1130" r="8"/><circle cx="1306" cy="1113" r="10"/><circle cx="1327" cy="1114" r="7"/><circle cx="1397" cy="1105" r="12"/><circle cx="1520" cy="1158" r="11"/><circle cx="1360" cy="1158" r="10"/><circle cx="167" cy="1071" r="8"/><circle cx="182" cy="1080" r="8"/><circle cx="120" cy="1098" r="12"/><circle cx="263" cy="1103" r="12"/><circle cx="230" cy="1125" r="8"/><circle cx="77" cy="1111" r="8"/><circle cx="10" cy="1110" r="8"/><circle cx="71" cy="1126" r="7"/><circle cx="122" cy="1140" r="7"/><circle cx="147" cy="1147" r="8"/><circle cx="172" cy="1147" r="12"/><circle cx="30" cy="1148" r="14"/><circle cx="62" cy="1176" r="8"/><circle cx="138" cy="1170" r="8"/><circle cx="155" cy="1192" r="12"/><circle cx="10" cy="1192" r="14"/><circle cx="28" cy="1215" r="10"/><circle cx="40" cy="1218" r="8"/><circle cx="80" cy="1183" r="10"/><circle cx="345" cy="1133" r="8"/><circle cx="202" cy="1245" r="13"/><circle cx="305" cy="1215" r="8"/><circle cx="347" cy="1206" r="7"/><circle cx="384" cy="1206" r="14"/><circle cx="398" cy="1210" r="10"/><circle cx="425" cy="1218" r="8"/><circle cx="485" cy="1220" r="14"/><circle cx="492" cy="1230" r="8"/><circle cx="540" cy="1173" r="8"/><circle cx="701" cy="1150" r="8"/><circle cx="843" cy="1150" r="8"/><circle cx="980" cy="1135" r="10"/><circle cx="1049" cy="1160" r="14"/><circle cx="1076" cy="1140" r="7"/><circle cx="1122" cy="1153" r="8"/><circle cx="1145" cy="1160" r="7"/><circle cx="1115" cy="1180" r="9"/><circle cx="1137" cy="1185" r="8"/><circle cx="1062" cy="1191" r="8"/><circle cx="960" cy="1210" r="8"/><circle cx="742" cy="1212" r="12"/><circle cx="771" cy="1200" r="9"/><circle cx="1233" cy="1192" r="18"/><circle cx="1271" cy="1200" r="8"/><circle cx="1297" cy="1183" r="8"/><circle cx="1411" cy="1188" r="7"/><circle cx="1479" cy="1220" r="12"/><circle cx="1482" cy="1245" r="8"/><circle cx="1274" cy="1242" r="10"/><circle cx="1265" cy="1208" r="7"/><circle cx="898" cy="1253" r="9"/><circle cx="635" cy="1252" r="8"/><circle cx="764" cy="1262" r="8"/><circle cx="775" cy="1278" r="9"/><circle cx="800" cy="1288" r="12"/><circle cx="822" cy="1266" r="8"/><circle cx="836" cy="1310" r="10"/><circle cx="788" cy="1310" r="8"/><circle cx="724" cy="1291" r="8"/><circle cx="668" cy="1291" r="8"/><circle cx="601" cy="1294" r="8"/><circle cx="588" cy="1322" r="12"/><circle cx="545" cy="1330" r="8"/><circle cx="557" cy="1355" r="9"/><circle cx="555" cy="1310" r="7"/><circle cx="498" cy="1328" r="8"/><circle cx="485" cy="1338" r="9"/><circle cx="454" cy="1300" r="10"/><circle cx="457" cy="1365" r="8"/><circle cx="410" cy="1400" r="8"/><circle cx="256" cy="1305" r="8"/><circle cx="318" cy="1395" r="10"/><circle cx="752" cy="1334" r="12"/><circle cx="778" cy="1336" r="7"/><circle cx="845" cy="1383" r="11"/><circle cx="809" cy="1417" r="9"/><circle cx="931" cy="1318" r="9"/><circle cx="928" cy="1336" r="12"/><circle cx="975" cy="1273" r="13"/><circle cx="968" cy="1293" r="9"/><circle cx="1017" cy="1295" r="15"/><circle cx="1040" cy="1295" r="10"/><circle cx="1091" cy="1303" r="8"/><circle cx="1136" cy="1298" r="8"/><circle cx="1067" cy="1353" r="9"/><circle cx="1035" cy="1380" r="18"/><circle cx="1058" cy="1406" r="8"/><circle cx="1193" cy="1296" r="14"/><circle cx="1183" cy="1350" r="9"/><circle cx="1239" cy="1370" r="8"/><circle cx="1398" cy="1363" r="8"/><circle cx="1423" cy="1388" r="9"/><circle cx="1487" cy="1315" r="8"/><circle cx="1320" cy="1405" r="8"/><circle cx="1204" cy="1445" r="10"/><circle cx="775" cy="1458" r="9"/><circle cx="745" cy="1472" r="8"/><circle cx="455" cy="1462" r="8"/><circle cx="57" cy="1500" r="8"/>
</g>
<g id="l3a" fill="none" stroke-linejoin="round">
<path d="M180,376 L252,327 L344,318 L465,310 L533,338 L694,316 M689,270 L694,316" stroke="#a9a6d3" stroke-opacity=".75" stroke-width="42"/>
<g fill="#8e8bc4" fill-opacity=".35" stroke="none"><rect x="145" y="345" width="70" height="62" transform="rotate(-25 180 376)"/><rect x="220" y="297" width="66" height="60" transform="rotate(10 252 327)"/><rect x="310" y="288" width="68" height="60"/><rect x="430" y="280" width="70" height="60" transform="rotate(12 465 310)"/><rect x="500" y="306" width="68" height="62" transform="rotate(15 533 338)"/><rect x="655" y="240" width="70" height="100"/></g>
<path d="M977,259 L1168,278" stroke="#fbdcb0" stroke-width="10"/>
<path d="M970,355 L1065,393 L1080,385" stroke="#c4c4e4" stroke-width="8"/>
<path d="M288,556 L428,552" stroke="#fbf0b0" stroke-width="10"/>
<path d="M92,631 L158,638" stroke="#e0caa0" stroke-width="12"/>
<path d="M656,618 L656,662" stroke="#fbdcb0" stroke-width="12"/>
<path d="M910,572 L835,594 L826,625 L865,652 L862,690 M910,572 L932,591" stroke="#ecc6e6" stroke-width="16"/>
<path d="M318,700 L340,765 L382,804" stroke="#c8c6ea" stroke-width="14"/>
<path d="M218,798 L250,887" stroke="#f0f0a8" stroke-width="10"/>
<path d="M90,845 L98,880" stroke="#e8f0c8" stroke-width="8"/>
<path d="M418,932 L463,940 L480,985 M405,990 L480,985 L487,1000" stroke="#b8d4f0" stroke-width="14"/>
<rect x="1280" y="505" width="95" height="60" transform="rotate(-30 1325 537)" fill="#8e8bc4" fill-opacity=".4" stroke="none"/>
<path d="M1393,652 L1437,620 L1500,580 L1568,598 M1520,653 L1497,683" stroke="#b8bce4" stroke-width="10"/>
<rect x="345" y="1265" width="140" height="65" transform="rotate(15 415 1300)" fill="#f08090" fill-opacity=".45" stroke="none"/>
<path d="M1007,1257 L1124,1252" stroke="#d8d0ee" stroke-width="14"/>
</g>
<g id="c3a">
<g fill="#34318a"><circle cx="180" cy="376" r="18"/><circle cx="252" cy="327" r="16"/><circle cx="344" cy="318" r="18"/><circle cx="465" cy="310" r="12"/><circle cx="533" cy="338" r="16"/><circle cx="689" cy="270" r="18"/><circle cx="694" cy="316" r="16"/></g>
<g fill="#f6a21c"><circle cx="977" cy="259" r="8"/><circle cx="1168" cy="278" r="9"/><circle cx="656" cy="618" r="13"/><circle cx="656" cy="662" r="10"/><circle cx="368" cy="1365" r="10"/><circle cx="396" cy="1376" r="12"/></g>
<g fill="#3a3a9a"><circle cx="970" cy="355" r="8"/><circle cx="1065" cy="393" r="9"/><circle cx="1080" cy="385" r="9"/></g>
<g fill="#2a2f80"><circle cx="820" cy="441" r="9"/><circle cx="835" cy="430" r="9"/></g>
<g fill="#f9e36a"><circle cx="288" cy="556" r="8"/><circle cx="428" cy="552" r="8"/></g>
<g fill="#b8862a"><circle cx="92" cy="631" r="30"/><circle cx="158" cy="638" r="13"/></g>
<g fill="#d988c8"><circle cx="835" cy="594" r="11"/><circle cx="910" cy="572" r="10"/><circle cx="932" cy="591" r="11"/><circle cx="826" cy="625" r="14"/><circle cx="865" cy="652" r="9"/><circle cx="862" cy="690" r="18"/></g>
<g fill="#5a56b5"><circle cx="318" cy="700" r="11"/><circle cx="340" cy="765" r="10"/><circle cx="382" cy="804" r="11"/></g>
<g fill="#e0e050"><circle cx="218" cy="798" r="10"/><circle cx="250" cy="887" r="20"/></g>
<g fill="#cde08a"><circle cx="90" cy="845" r="8"/><circle cx="98" cy="880" r="8"/></g>
<g fill="#3a7cc4"><circle cx="418" cy="932" r="10"/><circle cx="463" cy="940" r="12"/><circle cx="480" cy="985" r="10"/><circle cx="405" cy="990" r="12"/><circle cx="487" cy="1000" r="9"/></g>
<g fill="#2e3a9a"><circle cx="1345" cy="522" r="16"/><circle cx="1308" cy="553" r="20"/></g>
<g fill="#2e46a8"><circle cx="1393" cy="652" r="9"/><circle cx="1437" cy="620" r="9"/><circle cx="1500" cy="580" r="11"/><circle cx="1520" cy="653" r="16"/><circle cx="1497" cy="683" r="9"/></g>
<g fill="#1c1f6e"><circle cx="1115" cy="740" r="10"/><circle cx="1145" cy="744" r="8"/><circle cx="1128" cy="764" r="8"/><circle cx="1140" cy="764" r="8"/></g>
<g fill="#e8202a"><circle cx="365" cy="1298" r="20"/><circle cx="416" cy="1276" r="18"/><circle cx="430" cy="1326" r="22"/><circle cx="466" cy="1290" r="14"/></g>
<g fill="#8a6cc0"><circle cx="1007" cy="1257" r="12"/><circle cx="1124" cy="1252" r="14"/></g>
</g>
<circle cx="252" cy="327" r="7" fill="#7d7d7d"/>
</g>

<!-- cross-zone panel a (display coords) -->
<g fill="none" stroke-linejoin="round">
<path d="M266,228 L767,235.6 L809.5,249.3 L867.5,262.6 L917.2,273.4 L889.5,280.5" stroke="#d2eacb" stroke-width="4"/>
<path d="M889.5,280.5 L917.2,273.4" stroke="#c4e4ba" stroke-width="8"/>
<path d="M747.5,326 L789,299 L831,312 L851,321 L885,319.4 L959.5,303.2 L1043.5,286.7 L1101,288 M747.5,326 L767,331 M744,342 L768.4,340" stroke="#dcf0f4" stroke-width="3.5"/>
<path d="M927,683.4 L960.4,682.3" stroke="#f5b5d5" stroke-width="7"/>
</g>
<g id="c0a">
<g fill="#8ccf78"><circle cx="266" cy="228" r="5"/><circle cx="767" cy="235.6" r="3"/><circle cx="809.5" cy="249.3" r="3"/><circle cx="867.5" cy="262.6" r="3"/><circle cx="917.2" cy="273.4" r="5"/><circle cx="889.5" cy="280.5" r="4.5"/></g>
<g fill="#a8dde6"><circle cx="747.5" cy="326.2" r="3"/><circle cx="789.2" cy="299.2" r="3.5"/><circle cx="830.9" cy="311.8" r="3.5"/><circle cx="851.1" cy="320.8" r="3"/><circle cx="885.4" cy="319.4" r="3.5"/><circle cx="959.5" cy="303.2" r="3"/><circle cx="1043.5" cy="286.7" r="3"/><circle cx="1101.2" cy="288.1" r="3"/><circle cx="766.9" cy="331.3" r="3"/><circle cx="744" cy="342" r="4.5"/><circle cx="768.4" cy="339.9" r="4"/></g>
<g fill="#e8208a"><circle cx="927" cy="683.4" r="9.5"/><circle cx="960.4" cy="682.3" r="6.5"/></g>
</g>

<!-- panel a labels -->
<g class="n">
<text x="343.8" y="304" textLength="9.5" lengthAdjust="spacingAndGlyphs">8</text>
<text x="424.9" y="409" textLength="19.4" lengthAdjust="spacingAndGlyphs">20</text>
<text x="211.5" y="430.5" textLength="10" lengthAdjust="spacingAndGlyphs">1</text>
<text x="305.5" y="436" textLength="21" lengthAdjust="spacingAndGlyphs">10</text>
<text x="128" y="448" textLength="9.6" lengthAdjust="spacingAndGlyphs">3</text>
<text x="55" y="480" textLength="9.6" lengthAdjust="spacingAndGlyphs">2</text>
<text x="913" y="264.4" textLength="21" lengthAdjust="spacingAndGlyphs">13</text>
<text x="579" y="349" textLength="21" lengthAdjust="spacingAndGlyphs">18</text>
<text x="715.4" y="345.3" textLength="19.6" lengthAdjust="spacingAndGlyphs">22</text>
<text x="709.5" y="373" textLength="21" lengthAdjust="spacingAndGlyphs">19</text>
<text x="856.2" y="407.5" textLength="9.8" lengthAdjust="spacingAndGlyphs">6</text>
<text x="592.1" y="443.5" textLength="9.6" lengthAdjust="spacingAndGlyphs">9</text>
<text x="646.5" y="465" textLength="20.5" lengthAdjust="spacingAndGlyphs">12</text>
<text x="705" y="569.4" textLength="19.6" lengthAdjust="spacingAndGlyphs">23</text>
<text x="862.7" y="570.8" textLength="19.4" lengthAdjust="spacingAndGlyphs">14</text>
<text x="775.2" y="610.8" textLength="19.1" lengthAdjust="spacingAndGlyphs">15</text>
<text x="686" y="619.7" textLength="19" lengthAdjust="spacingAndGlyphs">21</text>
<text x="1142.6" y="327.3" textLength="9.5" lengthAdjust="spacingAndGlyphs">4</text>
<text x="1301.9" y="401.8" textLength="9" lengthAdjust="spacingAndGlyphs">7</text>
<text x="1141.6" y="443.5" textLength="20.5" lengthAdjust="spacingAndGlyphs">16</text>
<text x="1066.6" y="551.4" textLength="20" lengthAdjust="spacingAndGlyphs">17</text>
<text x="1071.2" y="678.7" textLength="9.5" lengthAdjust="spacingAndGlyphs">5</text>
<text x="955.5" y="710.4" textLength="20" lengthAdjust="spacingAndGlyphs">11</text>
</g>

<!-- ===================== PANEL B ===================== -->
<g transform="translate(26,824) scale(0.2977,0.3597)">
<use href="#s1" xlink:href="#s1"/>
<use href="#c1a" xlink:href="#c1a" filter="url(#gr)"/>
<g fill="none" stroke-linejoin="round">
<path d="M157,412 L290,403" stroke="#fbd9a0" stroke-width="22"/>
<rect x="308" y="405" width="52" height="50" fill="#f6a21c" fill-opacity=".35" stroke="none"/>
<rect x="470" y="372" width="48" height="26" fill="#f4854f" fill-opacity=".3" stroke="none"/>
<path d="M575,390 L640,370 L703,340 L747,320" stroke="#b8c4e6" stroke-width="30"/>
<rect x="672" y="428" width="46" height="50" fill="#4366b8" fill-opacity=".3" stroke="none"/>
<rect x="530" y="508" width="62" height="28" fill="#4366b8" fill-opacity=".3" stroke="none"/>
<rect x="1332" y="385" width="30" height="50" fill="#2c3591" fill-opacity=".3" stroke="none"/>
<path d="M1455,555 L1522,537 M1500,586 L1522,537" stroke="#a8d8d4" stroke-width="26"/>
<path d="M885,594 L925,620" stroke="#f8b8a8" stroke-width="34"/>
<rect x="540" y="565" width="62" height="48" fill="#f05a28" fill-opacity=".35" stroke="none"/>
<rect x="390" y="620" width="95" height="60" fill="#e0b94a" fill-opacity=".35" stroke="none"/>
<rect x="615" y="698" width="42" height="30" transform="rotate(30 637 713)" fill="#f06050" fill-opacity=".35" stroke="none"/>
<path d="M172,732 L265,740 M194,873 L297,862" stroke="#f0a0b0" stroke-width="22" stroke-opacity=".8"/>
<rect x="160" y="730" width="150" height="140" transform="rotate(-30 235 800)" fill="#e8536f" fill-opacity=".4" stroke="none"/>
<rect x="180" y="755" width="100" height="95" transform="rotate(10 230 802)" fill="#e8536f" fill-opacity=".35" stroke="none"/>
<rect x="216" y="697" width="32" height="28" fill="#4a7fc8" fill-opacity=".3" stroke="none"/>
<rect x="358" y="722" width="34" height="36" fill="#2b3b9a" fill-opacity=".3" stroke="none"/>
<path d="M1345,745 L1383,738" stroke="#c8def4" stroke-width="22"/>
<rect x="1398" y="830" width="38" height="58" fill="#3a3a9a" fill-opacity=".3" stroke="none"/>
<rect x="1372" y="950" width="85" height="34" transform="rotate(12 1415 968)" fill="#2a2f80" fill-opacity=".3" stroke="none"/>
<rect x="1455" y="1030" width="52" height="52" fill="#3b4aa0" fill-opacity=".3" stroke="none"/>
<path d="M17,935 L85,943" stroke="#fbd0a8" stroke-width="26"/>
<path d="M167,913 L197,918" stroke="#f9c4b0" stroke-width="14"/>
<rect x="225" y="930" width="45" height="50" fill="#e8208a" fill-opacity=".3" stroke="none"/>
<path d="M185,1095 L220,1080" stroke="#fbd9a0" stroke-width="16"/>
<path d="M455,1080 L478,1078" stroke="#f9c4b0" stroke-width="14"/>
<path d="M17,1225 L80,1238" stroke="#fbd0a8" stroke-width="20"/>
<path d="M1005,1160 L1075,1187" stroke="#e0b0b0" stroke-width="14"/>
<path d="M855,1228 L918,1228" stroke="#f8c0c0" stroke-width="14"/>
<path d="M975,1276 L908,1312" stroke="#f8c0c0" stroke-width="14"/>
<rect x="1178" y="1135" width="45" height="45" fill="#5a9ee0" fill-opacity=".3" stroke="none"/>
<path d="M1198,1152 L1250,1180" stroke="#c8def4" stroke-width="14"/>
<path d="M1465,1238 L1521,1188 L1568,1180" stroke="#bcd4ee" stroke-width="30"/>
<path d="M1060,492 L1103,468" stroke="#d8b0b0" stroke-width="10"/>
<path d="M1508,690 L1525,703" stroke="#a8d8d4" stroke-width="14"/>
</g>
<g fill="#f6a21c"><circle cx="157" cy="412" r="14"/><circle cx="290" cy="403" r="26"/><circle cx="330" cy="420" r="12"/><circle cx="340" cy="440" r="10"/><circle cx="157" cy="478" r="12"/><circle cx="183" cy="460" r="9"/><circle cx="185" cy="1095" r="12"/><circle cx="220" cy="1080" r="14"/></g>
<g fill="#f4854f"><circle cx="483" cy="382" r="8"/><circle cx="505" cy="388" r="8"/><circle cx="450" cy="602" r="9"/><circle cx="167" cy="913" r="10"/><circle cx="197" cy="918" r="10"/><circle cx="455" cy="1080" r="9"/><circle cx="478" cy="1078" r="9"/></g>
<g fill="#4366b8"><circle cx="585" cy="388" r="11"/><circle cx="605" cy="383" r="10"/><circle cx="625" cy="380" r="10"/><circle cx="640" cy="370" r="16"/><circle cx="690" cy="373" r="9"/><circle cx="703" cy="340" r="11"/><circle cx="737" cy="346" r="9"/><circle cx="747" cy="320" r="10"/><circle cx="690" cy="446" r="14"/><circle cx="703" cy="465" r="10"/><circle cx="548" cy="523" r="11"/><circle cx="578" cy="520" r="9"/></g>
<g fill="#d8253a"><circle cx="955" cy="363" r="8"/><circle cx="975" cy="380" r="9"/><circle cx="1018" cy="862" r="10"/><circle cx="1066" cy="880" r="11"/></g>
<g fill="#2c3591"><circle cx="1350" cy="398" r="9"/><circle cx="1345" cy="420" r="9"/></g>
<g fill="#4a90d9"><circle cx="850" cy="507" r="9"/><circle cx="875" cy="497" r="10"/></g>
<g fill="#7f1d1d"><circle cx="1062" cy="492" r="14"/><circle cx="1103" cy="468" r="10"/><circle cx="1160" cy="530" r="10"/><circle cx="1160" cy="545" r="9"/></g>
<g fill="#12837c"><circle cx="1455" cy="555" r="14"/><circle cx="1522" cy="537" r="14"/><circle cx="1500" cy="586" r="12"/><circle cx="1508" cy="593" r="9"/><circle cx="1523" cy="700" r="9"/><circle cx="1508" cy="690" r="9"/></g>
<g fill="#f7a050"><circle cx="85" cy="602" r="11"/><circle cx="110" cy="602" r="11"/></g>
<g fill="#f04e1e"><circle cx="572" cy="588" r="16"/><circle cx="560" cy="580" r="10"/><circle cx="585" cy="592" r="10"/><circle cx="565" cy="600" r="9"/></g>
<g fill="#d4a72c"><circle cx="425" cy="652" r="16"/><circle cx="445" cy="640" r="14"/><circle cx="460" cy="660" r="13"/><circle cx="440" cy="668" r="12"/><circle cx="408" cy="655" r="10"/><circle cx="472" cy="650" r="8"/></g>
<g fill="#ee4a24"><circle cx="885" cy="594" r="14"/><circle cx="925" cy="620" r="14"/><circle cx="922" cy="630" r="10"/></g>
<g fill="#f06050"><circle cx="637" cy="713" r="9"/><circle cx="630" cy="708" r="7"/><circle cx="585" cy="876" r="11"/><circle cx="615" cy="873" r="11"/></g>
<g fill="#e0173f"><circle cx="172" cy="732" r="26"/><circle cx="265" cy="740" r="18"/><circle cx="230" cy="803" r="20"/><circle cx="212" cy="808" r="14"/><circle cx="248" cy="795" r="14"/><circle cx="266" cy="813" r="10"/><circle cx="194" cy="873" r="16"/><circle cx="297" cy="862" r="26"/><circle cx="318" cy="835" r="10"/></g>
<circle cx="232" cy="711" r="12" fill="#4a7fc8"/>
<circle cx="375" cy="740" r="12" fill="#2b3b9a"/>
<g fill="#5a9ee0"><circle cx="1345" cy="745" r="9"/><circle cx="1383" cy="738" r="9"/><circle cx="1198" cy="1152" r="16"/><circle cx="1250" cy="1180" r="10"/></g>
<g fill="#c86bb5"><circle cx="1545" cy="795" r="9"/><circle cx="1560" cy="795" r="9"/><circle cx="1483" cy="928" r="9"/><circle cx="1500" cy="908" r="9"/></g>
<g fill="#3a3a9a"><circle cx="1418" cy="845" r="9"/><circle cx="1413" cy="870" r="10"/></g>
<g fill="#2a2f80"><circle cx="1390" cy="966" r="11"/><circle cx="1440" cy="970" r="11"/><circle cx="1447" cy="993" r="8"/></g>
<g fill="#3b4aa0"><circle cx="1476" cy="1043" r="22"/><circle cx="1490" cy="1070" r="10"/></g>
<g fill="#f9a84a"><circle cx="85" cy="943" r="14"/><circle cx="80" cy="1238" r="38"/></g>
<g fill="#e8208a"><circle cx="240" cy="943" r="13"/><circle cx="255" cy="968" r="12"/><circle cx="183" cy="970" r="10"/><circle cx="205" cy="983" r="10"/></g>
<g fill="#a0202a"><circle cx="1005" cy="1160" r="11"/><circle cx="1075" cy="1187" r="11"/></g>
<g fill="#e84040"><circle cx="855" cy="1228" r="10"/><circle cx="918" cy="1228" r="10"/><circle cx="975" cy="1276" r="26"/><circle cx="908" cy="1312" r="12"/></g>
<g fill="#5ab0e8"><circle cx="1440" cy="1160" r="9"/><circle cx="1433" cy="1176" r="9"/></g>
<g fill="#3a7cc4"><circle cx="1521" cy="1188" r="18"/><circle cx="1503" cy="1225" r="10"/><circle cx="1465" cy="1238" r="8"/></g>
</g>

<g transform="translate(479.6,824) scale(0.2977,0.3597)">
<use href="#s2" xlink:href="#s2"/>
<use href="#c2a" xlink:href="#c2a" filter="url(#gr)"/>
<g fill="none" stroke-linejoin="round">
<rect x="22" y="282" width="95" height="36" transform="rotate(8 70 300)" fill="#4a4db5" fill-opacity=".3" stroke="none"/>
<path d="M259,263 L363,270 L411,260" stroke="#c0c0e8" stroke-width="24"/>
<path d="M540,198 L651,220" stroke="#ecc6e6" stroke-width="12"/>
<rect x="800" y="165" width="25" height="35" fill="#c97bbf" fill-opacity=".35" stroke="none"/>
<path d="M1377,185 L1470,165 L1542,152" stroke="#cfe8c7" stroke-width="30"/>
<path d="M1040,237 L1180,272" stroke="#dcf0f4" stroke-width="18"/>
<rect x="875" y="300" width="110" height="70" fill="#a7dde6" fill-opacity=".3" stroke="none"/>
<path d="M578,368 L638,342" stroke="#c0c0e8" stroke-width="26"/>
<path d="M300,420 L375,410 L460,395 L550,410 M375,410 L433,453 L360,506 M300,420 L325,443" stroke="#f4a4a8" stroke-width="20"/>
<rect x="440" y="375" width="40" height="40" transform="rotate(-15 460 395)" fill="#f08090" fill-opacity=".35" stroke="none"/>
<rect x="675" y="495" width="65" height="36" transform="rotate(-10 708 513)" fill="#f9cc99" fill-opacity=".6" stroke="none"/>
<path d="M845,548 L885,542 L925,557" stroke="#c0c0e8" stroke-width="24"/>
<path d="M1250,566 L1330,568 L1393,510" stroke="#bcd4ee" stroke-width="24"/>
<path d="M1485,564 L1527,536" stroke="#f9c8b4" stroke-width="22"/>
<rect x="335" y="630" width="70" height="55" transform="rotate(20 370 657)" fill="#c8c88a" fill-opacity=".6" stroke="none"/>
<rect x="490" y="675" width="90" height="75" transform="rotate(-30 535 712)" fill="#f9cc80" fill-opacity=".6" stroke="none"/>
<path d="M1333,705 L1283,755" stroke="#c8cbee" stroke-width="16"/>
<path d="M497,628 L570,642" stroke="#c0c0e8" stroke-width="24"/>
<path d="M850,770 L935,752" stroke="#d4edc8" stroke-width="18"/>
<path d="M0,1190 L120,1188" stroke="#bcd4ee" stroke-width="36"/>
<path d="M660,1027 L705,1012 L735,1020 L790,1008 L810,1045 L870,1047 M810,1045 L800,1080 L822,1103" stroke="#f9cc99" stroke-width="16"/>
<rect x="895" y="1080" width="95" height="75" transform="rotate(-12 942 1117)" fill="#5a9a5a" fill-opacity=".35" stroke="none"/>
<rect x="1075" y="1065" width="42" height="65" fill="#5a9a5a" fill-opacity=".3" stroke="none"/>
<rect x="1120" y="995" width="85" height="45" transform="rotate(-10 1160 1017)" fill="#5a9a5a" fill-opacity=".3" stroke="none"/>
<rect x="1205" y="945" width="65" height="75" transform="rotate(-10 1240 985)" fill="#5a9a5a" fill-opacity=".3" stroke="none"/>
<path d="M1443,1152 L1515,1148 L1497,1193" stroke="#d8d0ee" stroke-width="20"/>
<path d="M985,1265 L1070,1265" stroke="#c0ccee" stroke-width="18"/>
<path d="M145,925 L200,938" stroke="#bcd4ee" stroke-width="26"/>
<path d="M440,900 L437,918" stroke="#bcd4ee" stroke-width="22"/>
<path d="M655,970 L700,970" stroke="#c0ccee" stroke-width="22"/>
</g>
<g fill="#4a4db5"><circle cx="40" cy="298" r="10"/><circle cx="97" cy="300" r="10"/><circle cx="85" cy="312" r="8"/><circle cx="259" cy="263" r="14"/><circle cx="363" cy="270" r="11"/><circle cx="411" cy="260" r="9"/><circle cx="578" cy="368" r="8"/><circle cx="598" cy="355" r="10"/><circle cx="638" cy="342" r="9"/></g>
<g fill="#5bc0f0"><circle cx="175" cy="275" r="8"/><circle cx="180" cy="295" r="8"/><circle cx="35" cy="367" r="9"/><circle cx="58" cy="350" r="8"/><circle cx="85" cy="470" r="8"/><circle cx="88" cy="457" r="7"/></g>
<g fill="#c97bbf"><circle cx="540" cy="198" r="9"/><circle cx="651" cy="220" r="12"/><circle cx="812" cy="175" r="9"/><circle cx="812" cy="188" r="9"/></g>
<g fill="#8ccf78"><circle cx="1377" cy="185" r="12"/><circle cx="1470" cy="165" r="15"/><circle cx="1542" cy="152" r="9"/></g>
<g fill="#a8dde6"><circle cx="1040" cy="237" r="11"/><circle cx="1180" cy="272" r="12"/><circle cx="900" cy="312" r="9"/><circle cx="965" cy="326" r="8"/><circle cx="888" cy="356" r="15"/><circle cx="970" cy="350" r="13"/></g>
<g fill="#ec2028"><circle cx="375" cy="410" r="20"/><circle cx="300" cy="420" r="11"/><circle cx="325" cy="443" r="10"/><circle cx="433" cy="453" r="16"/><circle cx="460" cy="395" r="13"/><circle cx="550" cy="410" r="13"/><circle cx="360" cy="506" r="12"/><circle cx="515" cy="496" r="9"/><circle cx="533" cy="513" r="9"/></g>
<g fill="#7ec8e0"><circle cx="265" cy="465" r="9"/><circle cx="262" cy="458" r="7"/></g>
<g fill="#92d5c3"><circle cx="643" cy="462" r="9"/><circle cx="410" cy="535" r="8"/><circle cx="428" cy="521" r="8"/><circle cx="345" cy="1020" r="8"/><circle cx="360" cy="1008" r="8"/><circle cx="618" cy="1168" r="8"/></g>
<g fill="#f28d1f"><circle cx="760" cy="465" r="26"/><circle cx="712" cy="480" r="8"/><circle cx="695" cy="515" r="10"/><circle cx="720" cy="512" r="9"/><circle cx="705" cy="1012" r="14"/><circle cx="735" cy="1020" r="11"/><circle cx="790" cy="1008" r="12"/><circle cx="670" cy="1027" r="9"/><circle cx="685" cy="1045" r="11"/><circle cx="810" cy="1045" r="12"/><circle cx="860" cy="1047" r="11"/><circle cx="800" cy="1080" r="16"/><circle cx="822" cy="1103" r="11"/></g>
<g fill="#d8e85a"><circle cx="1190" cy="401" r="9"/><circle cx="1225" cy="412" r="9"/></g>
<g fill="#a8d040"><circle cx="990" cy="480" r="9"/><circle cx="1018" cy="482" r="11"/><circle cx="985" cy="998" r="9"/><circle cx="997" cy="1003" r="9"/></g>
<g fill="#22287a"><circle cx="855" cy="548" r="10"/><circle cx="885" cy="542" r="12"/><circle cx="920" cy="557" r="11"/></g>
<g fill="#3a7cc4"><circle cx="1260" cy="566" r="9"/><circle cx="1307" cy="570" r="10"/><circle cx="1330" cy="568" r="14"/><circle cx="1355" cy="547" r="9"/><circle cx="1338" cy="528" r="8"/><circle cx="1393" cy="510" r="10"/><circle cx="440" cy="900" r="10"/><circle cx="437" cy="918" r="10"/><circle cx="172" cy="930" r="11"/><circle cx="192" cy="935" r="9"/><circle cx="660" cy="1110" r="10"/><circle cx="665" cy="1125" r="8"/><circle cx="5" cy="1190" r="10"/><circle cx="105" cy="1188" r="18"/></g>
<g fill="#f27a4a"><circle cx="1485" cy="564" r="11"/><circle cx="1527" cy="536" r="11"/></g>
<g fill="#2a2f80"><circle cx="507" cy="628" r="11"/><circle cx="542" cy="636" r="11"/><circle cx="565" cy="642" r="10"/></g>
<g fill="#7ccc6a"><circle cx="850" cy="617" r="8"/><circle cx="875" cy="610" r="8"/><circle cx="667" cy="678" r="10"/><circle cx="689" cy="665" r="10"/><circle cx="855" cy="770" r="9"/><circle cx="876" cy="770" r="9"/><circle cx="914" cy="770" r="10"/><circle cx="932" cy="752" r="12"/><circle cx="677" cy="833" r="9"/><circle cx="688" cy="840" r="9"/></g>
<g fill="#8a6cc0"><circle cx="1157" cy="610" r="11"/><circle cx="1185" cy="631" r="9"/></g>
<g fill="#8fcf8f"><circle cx="1265" cy="660" r="8"/><circle cx="1297" cy="662" r="8"/><circle cx="1288" cy="638" r="8"/></g>
<g fill="#7d7c20"><circle cx="360" cy="655" r="12"/><circle cx="377" cy="660" r="12"/><circle cx="387" cy="667" r="10"/><circle cx="368" cy="648" r="9"/></g>
<circle cx="277" cy="708" r="9" fill="#6ccad8"/>
<g fill="#f5a01a"><circle cx="525" cy="720" r="18"/><circle cx="540" cy="708" r="16"/><circle cx="520" cy="735" r="10"/><circle cx="548" cy="700" r="8"/></g>
<g fill="#4a5ac0"><circle cx="1333" cy="705" r="11"/><circle cx="1303" cy="737" r="11"/><circle cx="1283" cy="755" r="10"/></g>
<g fill="#c8e070"><circle cx="1073" cy="716" r="9"/><circle cx="1080" cy="710" r="9"/><circle cx="1198" cy="826" r="12"/><circle cx="1210" cy="822" r="9"/></g>
<g fill="#c86bb5"><circle cx="18" cy="795" r="9"/><circle cx="40" cy="793" r="9"/><circle cx="62" cy="805" r="9"/><circle cx="112" cy="796" r="11"/></g>
<g fill="#3b4eb4"><circle cx="655" cy="970" r="9"/><circle cx="678" cy="972" r="9"/><circle cx="700" cy="970" r="9"/></g>
<g fill="#0d6b2f"><circle cx="1160" cy="1013" r="18"/><circle cx="1140" cy="1028" r="14"/><circle cx="1195" cy="1008" r="12"/><circle cx="1223" cy="958" r="12"/><circle cx="1245" cy="960" r="12"/><circle cx="1255" cy="985" r="12"/><circle cx="1258" cy="1013" r="10"/><circle cx="1098" cy="1080" r="14"/><circle cx="1093" cy="1112" r="14"/><circle cx="915" cy="1105" r="14"/><circle cx="945" cy="1110" r="14"/><circle cx="965" cy="1105" r="12"/><circle cx="930" cy="1125" r="12"/><circle cx="945" cy="1155" r="16"/></g>
<g fill="#e8e060"><circle cx="1322" cy="1035" r="9"/><circle cx="1318" cy="1045" r="9"/></g>
<g fill="#f0e040"><circle cx="1330" cy="1138" r="10"/><circle cx="1372" cy="1135" r="10"/></g>
<g fill="#7a62b8"><circle cx="1443" cy="1152" r="14"/><circle cx="1515" cy="1148" r="14"/><circle cx="1497" cy="1193" r="12"/></g>
<g fill="#4a6ac8"><circle cx="985" cy="1265" r="11"/><circle cx="1070" cy="1265" r="11"/></g>
</g>

<g transform="translate(922.3,824) scale(0.2977,0.3597)">
<use href="#s3" xlink:href="#s3"/>
<use href="#c3a" xlink:href="#c3a" filter="url(#gr)"/>
<g fill="none" stroke-linejoin="round">
<path d="M180,376 L252,327 L344,318 L465,310 L533,338 L694,316 M689,270 L694,316" stroke="#a9a6d3" stroke-opacity=".75" stroke-width="42"/>
<g fill="#8e8bc4" fill-opacity=".35" stroke="none"><rect x="145" y="345" width="70" height="62" transform="rotate(-25 180 376)"/><rect x="210" y="300" width="90" height="60"/><rect x="290" y="285" width="95" height="65"/><rect x="430" y="285" width="70" height="55" transform="rotate(12 465 310)"/><rect x="665" y="248" width="55" height="85"/></g>
<rect x="790" y="410" width="75" height="50" transform="rotate(-30 828 435)" fill="#34318a" fill-opacity=".3" stroke="none"/>
<rect x="1040" y="365" width="70" height="45" transform="rotate(-30 1075 387)" fill="#34318a" fill-opacity=".3" stroke="none"/>
<rect x="622" y="492" width="44" height="50" fill="#4a5ac0" fill-opacity=".3" stroke="none"/>
<path d="M645,512 L722,502" stroke="#c8cbee" stroke-width="14"/>
<rect x="1270" y="500" width="110" height="65" transform="rotate(-30 1325 537)" fill="#8e8bc4" fill-opacity=".45" stroke="none"/>
<path d="M92,631 L172,650" stroke="#e0caa0" stroke-width="24"/>
<path d="M656,618 L656,662 M656,618 L692,620" stroke="#fbdcb0" stroke-width="18"/>
<path d="M836,594 L826,625 L865,650 L862,690 M910,572 L933,591 L976,597" stroke="#ecc6e6" stroke-width="20"/>
<path d="M626,700 L635,740" stroke="#fbf0b0" stroke-width="12"/>
<path d="M1497,682 L1520,652" stroke="#b8bce4" stroke-width="14"/>
<path d="M1328,747 L1363,720" stroke="#c0ccee" stroke-width="14"/>
<path d="M418,932 L463,940" stroke="#b8d4f0" stroke-width="18"/>
<path d="M1378,1038 L1418,1020 L1440,993 M1418,1020 L1455,1035" stroke="#d6eef4" stroke-width="22"/>
<path d="M1252,1130 L1285,1133" stroke="#fbe0a8" stroke-width="16"/>
<path d="M1120,1183 L1137,1185" stroke="#fbe0a8" stroke-width="14"/>
<path d="M28,1150 L10,1193" stroke="#d0caee" stroke-width="14"/>
<rect x="132" y="1133" width="55" height="30" fill="#4a5ac0" fill-opacity=".3" stroke="none"/>
<path d="M385,1205 L487,1220" stroke="#c0ccee" stroke-width="20"/>
<rect x="345" y="1265" width="140" height="65" transform="rotate(15 415 1300)" fill="#f08090" fill-opacity=".45" stroke="none"/>
<path d="M755,1335 L787,1315 L835,1310" stroke="#c0ccee" stroke-width="18"/>
<path d="M978,1275 L1007,1257 L1124,1252 L1193,1295 M1020,1290 L1042,1292 M1124,1252 L1137,1240" stroke="#d8d0ee" stroke-width="20"/>
<path d="M1480,1220 L1568,1235" stroke="#fbdcb0" stroke-width="20"/>
<path d="M368,1365 L396,1376" stroke="#fbdcb0" stroke-width="16"/>
</g>
<circle cx="55" cy="152" r="9" fill="#8ccf78"/>
<g fill="#34318a"><circle cx="180" cy="376" r="18"/><circle cx="252" cy="327" r="16"/><circle cx="344" cy="318" r="18"/><circle cx="465" cy="310" r="12"/><circle cx="533" cy="338" r="16"/><circle cx="689" cy="270" r="18"/><circle cx="694" cy="316" r="16"/><circle cx="820" cy="440" r="10"/><circle cx="835" cy="430" r="10"/><circle cx="1070" cy="390" r="10"/><circle cx="1080" cy="382" r="9"/></g>
<g fill="#f8e040"><circle cx="970" cy="352" r="12"/><circle cx="1015" cy="480" r="10"/><circle cx="1010" cy="500" r="10"/><circle cx="626" cy="700" r="9"/><circle cx="635" cy="740" r="9"/></g>
<g fill="#4a5ac0"><circle cx="643" cy="510" r="9"/><circle cx="645" cy="525" r="9"/><circle cx="722" cy="502" r="9"/><circle cx="145" cy="1148" r="9"/><circle cx="172" cy="1150" r="11"/></g>
<g fill="#2e3a9a"><circle cx="1345" cy="520" r="16"/><circle cx="1308" cy="553" r="20"/></g>
<g fill="#f27a4a"><circle cx="40" cy="535" r="11"/><circle cx="5" cy="565" r="9"/></g>
<g fill="#b8862a"><circle cx="92" cy="631" r="30"/><circle cx="158" cy="638" r="13"/><circle cx="172" cy="655" r="11"/></g>
<g fill="#f6a21c"><circle cx="656" cy="618" r="13"/><circle cx="656" cy="662" r="11"/><circle cx="692" cy="620" r="9"/><circle cx="368" cy="1365" r="10"/><circle cx="396" cy="1376" r="12"/></g>
<g fill="#d988c8"><circle cx="836" cy="594" r="11"/><circle cx="826" cy="625" r="13"/><circle cx="865" cy="650" r="10"/><circle cx="862" cy="690" r="18"/><circle cx="910" cy="572" r="10"/><circle cx="933" cy="591" r="11"/><circle cx="976" cy="597" r="9"/></g>
<g fill="#2e46a8"><circle cx="1520" cy="652" r="16"/><circle cx="1497" cy="682" r="10"/></g>
<g fill="#1c1f6e"><circle cx="1090" cy="740" r="10"/><circle cx="1118" cy="738" r="11"/></g>
<g fill="#4a6ac8"><circle cx="1328" cy="747" r="26"/><circle cx="1363" cy="720" r="13"/><circle cx="755" cy="1335" r="11"/><circle cx="787" cy="1315" r="11"/><circle cx="835" cy="1310" r="11"/></g>
<g fill="#f9a84a"><circle cx="1497" cy="932" r="48"/><circle cx="1480" cy="1220" r="11"/></g>
<g fill="#3a7cc4"><circle cx="418" cy="932" r="11"/><circle cx="463" cy="940" r="12"/></g>
<g fill="#a7dde6"><circle cx="1378" cy="1038" r="13"/><circle cx="1418" cy="1020" r="12"/><circle cx="1440" cy="993" r="10"/><circle cx="1455" cy="1035" r="14"/><circle cx="1430" cy="1030" r="10"/></g>
<g fill="#f9c040"><circle cx="1397" cy="1105" r="12"/><circle cx="1252" cy="1130" r="13"/><circle cx="1285" cy="1133" r="9"/><circle cx="1120" cy="1183" r="9"/><circle cx="1137" cy="1185" r="9"/></g>
<g fill="#6a5ab8"><circle cx="28" cy="1150" r="13"/><circle cx="10" cy="1193" r="12"/></g>
<g fill="#3b4eb4"><circle cx="385" cy="1205" r="12"/><circle cx="487" cy="1220" r="12"/></g>
<g fill="#e8202a"><circle cx="365" cy="1298" r="20"/><circle cx="416" cy="1276" r="18"/><circle cx="430" cy="1326" r="22"/><circle cx="466" cy="1290" r="14"/></g>
<g fill="#8a6cc0"><circle cx="978" cy="1275" r="11"/><circle cx="1007" cy="1257" r="12"/><circle cx="1124" cy="1252" r="14"/><circle cx="1020" cy="1290" r="12"/><circle cx="1042" cy="1292" r="10"/><circle cx="1193" cy="1295" r="14"/><circle cx="1137" cy="1240" r="9"/></g>
</g>
<use href="#c0a" xlink:href="#c0a" y="610" filter="url(#gr)"/>
<rect x="912.8" y="1279" width="62.5" height="27" fill="#f4b0d0"/>
<g fill="#e8208a"><circle cx="927" cy="1293.4" r="9.5"/><circle cx="960.4" cy="1292.3" r="6.5"/></g>

<!-- panel frames -->
<rect x="31" y="220.5" width="1353.6" height="552.6" fill="none" stroke="#111" stroke-width="1.4"/>
<rect x="31" y="830.5" width="1353.6" height="552" fill="none" stroke="#111" stroke-width="1.4"/>

<!-- ===================== TOP THUMBNAILS ===================== -->
<svg x="31" y="116" width="124.1" height="92" viewBox="0 0 124 92" preserveAspectRatio="none">
<g fill="#f26a3a" fill-opacity=".3"><rect x="50" y="26" width="16" height="30" transform="rotate(8 58 41)"/><rect x="44" y="40" width="28" height="26" transform="rotate(-15 58 53)"/><rect x="46" y="48" width="24" height="22" transform="rotate(20 58 59)"/><rect x="52" y="22" width="12" height="16" transform="rotate(-5 58 30)"/></g>
<g fill="#f05a28"><circle cx="60" cy="29" r="3.5"/><circle cx="60" cy="36" r="3"/><circle cx="57" cy="46" r="4"/><circle cx="55" cy="54" r="4.5"/><circle cx="60" cy="51" r="3.5"/><circle cx="59" cy="62" r="3.5"/></g>
</svg>
<svg x="167.6" y="116" width="124.1" height="92" viewBox="0 0 124 92" preserveAspectRatio="none">
<rect x="24" y="28" width="44" height="46" transform="rotate(-28 46 51)" fill="#e8536f" fill-opacity=".4"/>
<rect x="32" y="34" width="30" height="32" transform="rotate(10 47 50)" fill="#e8536f" fill-opacity=".35"/>
<path d="M16.8,15.7 L57.3,20.5 M43,6.7 L57.3,20.5 M28.2,86.9 L71.8,78.3" stroke="#f0a0b0" stroke-width="8" fill="none"/>
<path d="M104.6,9.3 L105.5,16.8 L100,36.2" stroke="#b8bce0" stroke-width="3" fill="none"/>
<g fill="#7d7d7d"><circle cx="6.8" cy="7.1" r="2.5"/><circle cx="73.7" cy="34" r="2.5"/><circle cx="94" cy="39" r="2.5"/><circle cx="80.5" cy="65" r="3.5"/><circle cx="101.9" cy="68" r="2.5"/><circle cx="111" cy="58.5" r="3"/><circle cx="122.8" cy="59" r="2.5"/><circle cx="66" cy="84" r="3"/></g>
<g fill="#e0173f"><circle cx="16.8" cy="15.7" r="7.5"/><circle cx="43" cy="6.7" r="4"/><circle cx="57.3" cy="20.5" r="6"/><circle cx="46.4" cy="46.4" r="6"/><circle cx="39.6" cy="54.6" r="6.5"/><circle cx="58.7" cy="55.6" r="5"/><circle cx="50" cy="50" r="5"/><circle cx="28.2" cy="86.9" r="5.5"/><circle cx="71.8" cy="78.3" r="8"/></g>
<circle cx="44" cy="69" r="4.5" fill="#4a7fc8"/>
<g fill="#2b3b9a"><circle cx="104.6" cy="9.3" r="3"/><circle cx="105.5" cy="16.8" r="3.5"/><circle cx="100" cy="36.2" r="3.5"/></g>
</svg>
<svg x="304.2" y="116" width="124.1" height="92" viewBox="0 0 124 92" preserveAspectRatio="none">
<g fill="#e6c05a" fill-opacity=".35"><rect x="14" y="40" width="28" height="32" transform="rotate(10 28 56)"/><rect x="42" y="16" width="24" height="28" transform="rotate(-25 54 30)"/><rect x="54" y="30" width="26" height="28" transform="rotate(-25 67 44)"/><rect x="40" y="50" width="28" height="26" transform="rotate(10 54 63)"/><rect x="72" y="52" width="26" height="30" transform="rotate(-20 85 66)"/></g>
<g fill="#d9a520"><circle cx="26.8" cy="55.7" r="7.5"/><circle cx="53.2" cy="27.2" r="3.5"/><circle cx="64.5" cy="40.6" r="3.5"/><circle cx="72.7" cy="44.9" r="3.5"/><circle cx="53.2" cy="62.8" r="4"/><circle cx="85" cy="65.4" r="3.5"/></g>
<circle cx="61.4" cy="65.4" r="2.5" fill="#7d7d7d"/>
</svg>
<svg x="440.8" y="116" width="124.1" height="92" viewBox="0 0 124 92" preserveAspectRatio="none">
<path d="M10.9,33.4 L59.6,25.7 L92.8,26.1" stroke="#d6eef4" stroke-width="3" fill="none"/>
<path d="M19.6,56.7 L32.4,49.1 L48.3,45.5 L69.7,45.5 L81.5,50.3 L108.5,44.9 L108.2,36.2" stroke="#a9a6d3" stroke-opacity=".75" stroke-width="15" fill="none"/>
<g fill="#8e8bc4" fill-opacity=".3"><rect x="24" y="38" width="18" height="20"/><rect x="40" y="35" width="18" height="20"/><rect x="62" y="36" width="16" height="18" transform="rotate(15 70 45)"/><rect x="98" y="26" width="20" height="28"/></g>
<g fill="#a8dde6"><circle cx="10.9" cy="33.4" r="3"/><circle cx="59.6" cy="25.7" r="3"/><circle cx="92.8" cy="26.1" r="3"/></g>
<g fill="#7d7d7d"><circle cx="4" cy="63.6" r="2.5"/><circle cx="48.3" cy="76.1" r="3.5"/><circle cx="59.6" cy="71.3" r="2.5"/><circle cx="100.5" cy="85.2" r="3"/><circle cx="113" cy="82.2" r="2.5"/><circle cx="104.8" cy="66.4" r="3"/></g>
<g fill="#34318a"><circle cx="19.6" cy="56.7" r="5.5"/><circle cx="32.4" cy="49.1" r="6"/><circle cx="48.3" cy="45.5" r="6"/><circle cx="69.7" cy="45.5" r="4.5"/><circle cx="81.5" cy="50.3" r="5.5"/><circle cx="108.2" cy="36.2" r="6"/><circle cx="108.7" cy="44.9" r="6"/></g>
<circle cx="32.4" cy="49.1" r="2.5" fill="#7d7d7d"/>
<rect x="44" y="89" width="16" height="3" fill="#f8e040"/>
</svg>
<svg x="577.4" y="116" width="124.1" height="92" viewBox="0 0 124 92" preserveAspectRatio="none">
<path d="M25.5,42.7 L62.8,25.5 L99.1,36.2 M25.5,42.7 L73.7,63.2" stroke="#f4a0a8" stroke-opacity=".85" stroke-width="12" fill="none"/>
<g fill="#7d7d7d"><circle cx="10" cy="25.9" r="3"/><circle cx="84.6" cy="47.7" r="3"/><circle cx="91.4" cy="71.4" r="3"/><circle cx="117.3" cy="75.5" r="3"/></g>
<g fill="#ec2028"><circle cx="25.5" cy="42.7" r="6.5"/><circle cx="62.8" cy="25.5" r="6"/><circle cx="99.1" cy="36.2" r="4.5"/><circle cx="73.7" cy="63.2" r="7"/></g>
</svg>
<svg x="714" y="116" width="124.1" height="92" viewBox="0 0 124 92" preserveAspectRatio="none">
<path d="M8,58.5 L48.1,62.8 L68.1,60 L85.4,42.3 L72.7,22" stroke="#b8d4ee" stroke-opacity=".85" stroke-width="15" fill="none" stroke-linejoin="round"/>
<circle cx="115.8" cy="11.4" r="3.5" fill="#7d7d7d"/>
<g fill="#3a7cc4"><circle cx="11.4" cy="58.5" r="3.5"/><circle cx="48.1" cy="62.8" r="3.5"/><circle cx="68.1" cy="60" r="5.5"/><circle cx="85.4" cy="42.3" r="4"/><circle cx="72.7" cy="25.9" r="3.5"/></g>
</svg>
<svg x="850.6" y="116" width="124.1" height="92" viewBox="0 0 124 92" preserveAspectRatio="none">
<path d="M22,78 L84,8" stroke="#a9a6d3" stroke-width="22" fill="none"/>
<g fill="#7d7d7d"><circle cx="34.5" cy="60" r="3"/><circle cx="112.2" cy="13.6" r="2.5"/><circle cx="75" cy="91" r="2.5"/></g>
<g fill="#2e3a9a"><circle cx="24" cy="74.4" r="7.5"/><circle cx="82.2" cy="12.3" r="6.5"/></g>
</svg>
<svg x="987.2" y="116" width="124.1" height="92" viewBox="0 0 124 92" preserveAspectRatio="none">
<path d="M14,35 L43.1,45.5 L69,43.8 L84.5,56.7 L114,48.1 M69,43.8 L114,48.1 M90.8,38.4 L114,48.1" stroke="#fbd89a" stroke-opacity=".85" stroke-width="13" fill="none" stroke-linejoin="round"/>
<g fill="#7d7d7d"><circle cx="9" cy="12.9" r="2.5"/><circle cx="56.8" cy="58.3" r="2.5"/><circle cx="26.3" cy="70.7" r="3"/><circle cx="31.8" cy="76.1" r="3"/><circle cx="57.7" cy="80" r="2.5"/><circle cx="87.6" cy="62.8" r="3"/><circle cx="9" cy="90.8" r="3"/></g>
<g fill="#f6a21c"><circle cx="17.3" cy="36.2" r="4"/><circle cx="43.1" cy="45.5" r="5"/><circle cx="69" cy="43.8" r="5"/><circle cx="90.8" cy="38.4" r="3"/><circle cx="77.2" cy="52" r="4"/><circle cx="84.5" cy="56.7" r="5"/><circle cx="112.6" cy="48.1" r="5.5"/></g>
</svg>
<svg x="1123.8" y="116" width="124.1" height="92" viewBox="0 0 124 92" preserveAspectRatio="none">
<path d="M22,3 L42.2,24.4 L62.7,8 L74,32.1 L97.2,85.2" stroke="#c8d0a4" stroke-opacity=".9" stroke-width="12" fill="none" stroke-linejoin="round"/>
<g fill="#6b7a2a"><circle cx="24.5" cy="7.5" r="3.5"/><circle cx="42.2" cy="24.4" r="3.5"/><circle cx="62.7" cy="11" r="3.5"/><circle cx="74" cy="32.1" r="3.5"/><circle cx="97.2" cy="85.2" r="3"/></g>
</svg>
<svg x="1260.4" y="116" width="124.1" height="92" viewBox="0 0 124 92" preserveAspectRatio="none">
<path d="M0,2 L26.8,10.4 L94.9,52 L101.5,80" stroke="#f7b9a6" stroke-width="11" fill="none" stroke-linejoin="round"/>
<g fill="#ee4a24"><circle cx="26.8" cy="10.4" r="5.8"/><circle cx="94.9" cy="52" r="4.8"/><circle cx="100.8" cy="76.1" r="3.3"/></g>
</svg>
<g fill="none" stroke="#111" stroke-width="1.7">
<rect x="31" y="116" width="124.1" height="92"/><rect x="167.6" y="116" width="124.1" height="92"/><rect x="304.2" y="116" width="124.1" height="92"/><rect x="440.8" y="116" width="124.1" height="92"/><rect x="577.4" y="116" width="124.1" height="92"/><rect x="714" y="116" width="124.1" height="92"/><rect x="850.6" y="116" width="124.1" height="92"/><rect x="987.2" y="116" width="124.1" height="92"/><rect x="1123.8" y="116" width="124.1" height="92"/><rect x="1260.4" y="116" width="124.1" height="92"/>
</g>

<!-- ===================== BOTTOM THUMBNAILS ===================== -->
<svg x="31" y="1471.4" width="124.1" height="92" viewBox="0 0 124 92" preserveAspectRatio="none">
<g fill="#f26a3a" fill-opacity=".45"><rect x="54" y="25" width="12" height="16" transform="rotate(-5 60 33)"/><rect x="52" y="36" width="14" height="16"/><rect x="48" y="48" width="16" height="14" transform="rotate(10 56 55)"/><rect x="50" y="58" width="12" height="10" transform="rotate(-10 56 63)"/></g>
<g fill="#f05a28"><circle cx="60" cy="29" r="3"/><circle cx="60" cy="38" r="3.5"/><circle cx="58" cy="46" r="3.5"/><circle cx="55" cy="53" r="4"/><circle cx="58" cy="58" r="3.5"/><circle cx="57" cy="64" r="3"/></g>
</svg>
<svg x="167.6" y="1471.4" width="124.1" height="92" viewBox="0 0 124 92" preserveAspectRatio="none">
<rect x="24" y="32" width="46" height="48" transform="rotate(-28 47 56)" fill="#e8536f" fill-opacity=".4"/>
<rect x="34" y="40" width="28" height="30" transform="rotate(10 48 55)" fill="#e8536f" fill-opacity=".35"/>
<path d="M18.4,15 L56.5,20.8 M56.5,20.8 L47,47.5 M43.4,68.9 L71.7,79 L80.9,65.3 M27.2,83.9 L38.1,53.9" stroke="#f0a0b0" stroke-width="8" fill="none"/>
<g fill="#7d7d7d"><circle cx="7.4" cy="6.8" r="3"/><circle cx="104.7" cy="10" r="2.5"/><circle cx="73.6" cy="34.2" r="3"/><circle cx="97.1" cy="35.1" r="3"/><circle cx="91.6" cy="38.9" r="2.5"/><circle cx="111.3" cy="58.6" r="3"/><circle cx="100.6" cy="66.8" r="2.5"/><circle cx="122" cy="59" r="2.5"/><circle cx="63" cy="46" r="2.5"/></g>
<g fill="#e0173f"><circle cx="18.4" cy="15" r="8.5"/><circle cx="56.5" cy="20.8" r="6"/><circle cx="47" cy="47.5" r="6"/><circle cx="38.1" cy="53.9" r="5"/><circle cx="57.8" cy="55" r="5"/><circle cx="43.4" cy="68.9" r="5"/><circle cx="80.9" cy="65.3" r="5"/><circle cx="71.7" cy="79" r="9"/><circle cx="27.2" cy="83.9" r="5"/><circle cx="60.4" cy="76.4" r="4"/><circle cx="50" cy="44" r="5"/></g>
<circle cx="43.4" cy="6.8" r="4" fill="#4a7fc8"/>
<g fill="#2b3b9a"><circle cx="104.7" cy="17.5" r="3.5"/><circle cx="103.8" cy="23.5" r="3.5"/></g>
</svg>
<svg x="304.2" y="1471.4" width="124.1" height="92" viewBox="0 0 124 92" preserveAspectRatio="none">
<path d="M25.4,56 L52.6,27.2 L72.3,45.8 L83.7,65 L54.7,60.3 Z M52.6,27.2 L54.7,60.3" stroke="#f0d48a" stroke-opacity=".75" stroke-width="8" fill="none" stroke-linejoin="round"/>
<g fill="#d9a520"><circle cx="25.4" cy="56" r="7.5"/><circle cx="52.6" cy="27.2" r="3.5"/><circle cx="72.3" cy="45.8" r="3.5"/><circle cx="64.8" cy="41.1" r="3"/><circle cx="54.7" cy="60.3" r="3.5"/><circle cx="60" cy="64.6" r="3"/><circle cx="83.7" cy="65" r="3.5"/></g>
</svg>
<svg x="440.8" y="1471.4" width="124.1" height="92" viewBox="0 0 124 92" preserveAspectRatio="none">
<path d="M19.3,58.2 L32.4,49.6 L48.6,46.9 L69.6,46.4 L81.5,51.4 L109.2,46.4 L108.3,37.9" stroke="#a9a6d3" stroke-opacity=".75" stroke-width="15" fill="none"/>
<g fill="#8e8bc4" fill-opacity=".3"><rect x="22" y="37" width="34" height="22"/><rect x="63" y="40" width="14" height="14"/><rect x="99" y="28" width="18" height="28"/></g>
<rect x="94" y="77" width="14" height="15" fill="#8ea0dc" fill-opacity=".5"/>
<g fill="#7d7d7d"><circle cx="59.6" cy="25.7" r="2.5"/><circle cx="92.9" cy="26.5" r="2.5"/><circle cx="9.6" cy="34.2" r="2.5"/><circle cx="86" cy="61" r="2.5"/><circle cx="104.8" cy="66.3" r="3"/><circle cx="59.6" cy="70.6" r="2.5"/><circle cx="46.9" cy="76.4" r="3.5"/><circle cx="4" cy="63.6" r="2.5"/></g>
<g fill="#34318a"><circle cx="19.3" cy="58.2" r="5.5"/><circle cx="32.4" cy="49.6" r="6"/><circle cx="48.6" cy="46.9" r="6"/><circle cx="69.6" cy="46.4" r="4.5"/><circle cx="81.5" cy="51.4" r="5"/><circle cx="108.3" cy="37.9" r="6"/><circle cx="109.2" cy="46.4" r="6"/></g>
<g fill="#4a6ac8"><circle cx="100.3" cy="83.9" r="3.5"/><circle cx="114.3" cy="82.4" r="3"/></g>
</svg>
<svg x="577.4" y="1471.4" width="124.1" height="92" viewBox="0 0 124 92" preserveAspectRatio="none">
<path d="M25.4,41.1 L63.5,25.7 L99,36.4 L73.6,64.6 Z M25.4,41.1 L99,36.4" stroke="#f4a0a8" stroke-opacity=".85" stroke-width="12" fill="none" stroke-linejoin="round"/>
<g fill="#7d7d7d"><circle cx="10.5" cy="26.1" r="3"/><circle cx="91.5" cy="71" r="3"/><circle cx="117.4" cy="75.3" r="3"/></g>
<g fill="#ec2028"><circle cx="25.4" cy="41.1" r="7"/><circle cx="63.5" cy="25.7" r="6"/><circle cx="99" cy="36.4" r="5"/><circle cx="85" cy="47" r="3.5"/><circle cx="73.6" cy="64.6" r="7"/></g>
</svg>
<svg x="714" y="1471.4" width="124.1" height="92" viewBox="0 0 124 92" preserveAspectRatio="none">
<path d="M11.8,58.6 L47.7,62.9 L67.5,59.3 L85,42.8 L116,8 M85,42.8 L72.3,22 M47.7,62.9 L85,42.8" stroke="#b8d4ee" stroke-opacity=".85" stroke-width="10" fill="none" stroke-linejoin="round"/>
<g fill="#3a7cc4"><circle cx="11.8" cy="58.6" r="3.5"/><circle cx="47.7" cy="62.9" r="3.5"/><circle cx="67.5" cy="59.3" r="5.5"/><circle cx="85" cy="42.8" r="4"/><circle cx="72.3" cy="25.7" r="3.5"/><circle cx="114.8" cy="11.8" r="3.5"/></g>
</svg>
<svg x="850.6" y="1471.4" width="124.1" height="92" viewBox="0 0 124 92" preserveAspectRatio="none">
<path d="M20,80 L82,4" stroke="#a9a6d3" stroke-width="22" fill="none"/>
<path d="M81,12.8 L110.8,14.1" stroke="#a9a6d3" stroke-width="10" fill="none"/>
<circle cx="73.6" cy="90.7" r="3" fill="#7d7d7d"/>
<g fill="#2e3a9a"><circle cx="23.2" cy="73.6" r="7.5"/><circle cx="81" cy="12.8" r="6.5"/><circle cx="110.8" cy="14.1" r="3.5"/><circle cx="34.2" cy="59.7" r="3"/></g>
</svg>
<svg x="987.2" y="1471.4" width="124.1" height="92" viewBox="0 0 124 92" preserveAspectRatio="none">
<path d="M14,35 L42.9,45.8 L69.2,44.3 L85.4,53.9 L114,47.9 M69.2,44.3 L114,47.9 M76.2,51.8 L86.7,62.5" stroke="#fbd89a" stroke-opacity=".85" stroke-width="13" fill="none" stroke-linejoin="round"/>
<g fill="#7d7d7d"><circle cx="9.2" cy="13.3" r="2.5"/><circle cx="91.1" cy="38.3" r="2.5"/><circle cx="56.9" cy="58.9" r="2.5"/><circle cx="57.8" cy="80" r="2.5"/><circle cx="8.8" cy="90.3" r="3"/></g>
<g fill="#f6a21c"><circle cx="16.6" cy="36.4" r="4"/><circle cx="42.9" cy="45.8" r="5"/><circle cx="69.2" cy="44.3" r="5"/><circle cx="76.2" cy="51.8" r="4.5"/><circle cx="85.4" cy="53.9" r="5"/><circle cx="86.7" cy="62.5" r="4"/><circle cx="112.1" cy="47.9" r="5.5"/></g>
<g fill="#d8253a"><circle cx="27.2" cy="71" r="3.5"/><circle cx="32.4" cy="76.6" r="3.5"/></g>
</svg>
<svg x="1123.8" y="1471.4" width="124.1" height="92" viewBox="0 0 124 92" preserveAspectRatio="none">
<path d="M20,4 L64,6 L76,38 L73,42 L40,30 Z" fill="#b7c28a" fill-opacity=".55"/>
<path d="M25,7.9 L73.1,32.5 M62.2,10.5 L41.2,26.1" stroke="#a4b070" stroke-opacity=".6" stroke-width="6" fill="none"/>
<circle cx="97.2" cy="85" r="3" fill="#7d7d7d"/>
<g fill="#6b7a2a"><circle cx="25" cy="7.9" r="3.5"/><circle cx="62.2" cy="10.5" r="3.5"/><circle cx="41.2" cy="26.1" r="3.5"/><circle cx="73.1" cy="32.5" r="3.5"/></g>
</svg>
<svg x="1260.4" y="1471.4" width="124.1" height="92" viewBox="0 0 124 92" preserveAspectRatio="none">
<path d="M0,2 L26.8,10.4 L94.9,52 L101.5,80" stroke="#f7b9a6" stroke-width="11" fill="none" stroke-linejoin="round"/>
<g fill="#ee4a24"><circle cx="26.8" cy="10.4" r="5.8"/><circle cx="94.9" cy="52" r="4.8"/><circle cx="100.8" cy="76.1" r="3.3"/></g>
</svg>
<g fill="none" stroke="#111" stroke-width="1.7">
<rect x="31" y="1471.4" width="124.1" height="92"/><rect x="167.6" y="1471.4" width="124.1" height="92"/><rect x="304.2" y="1471.4" width="124.1" height="92"/><rect x="440.8" y="1471.4" width="124.1" height="92"/><rect x="577.4" y="1471.4" width="124.1" height="92"/><rect x="714" y="1471.4" width="124.1" height="92"/><rect x="850.6" y="1471.4" width="124.1" height="92"/><rect x="987.2" y="1471.4" width="124.1" height="92"/><rect x="1123.8" y="1471.4" width="124.1" height="92"/><rect x="1260.4" y="1471.4" width="124.1" height="92"/>
</g>
</svg>
</body></html>
